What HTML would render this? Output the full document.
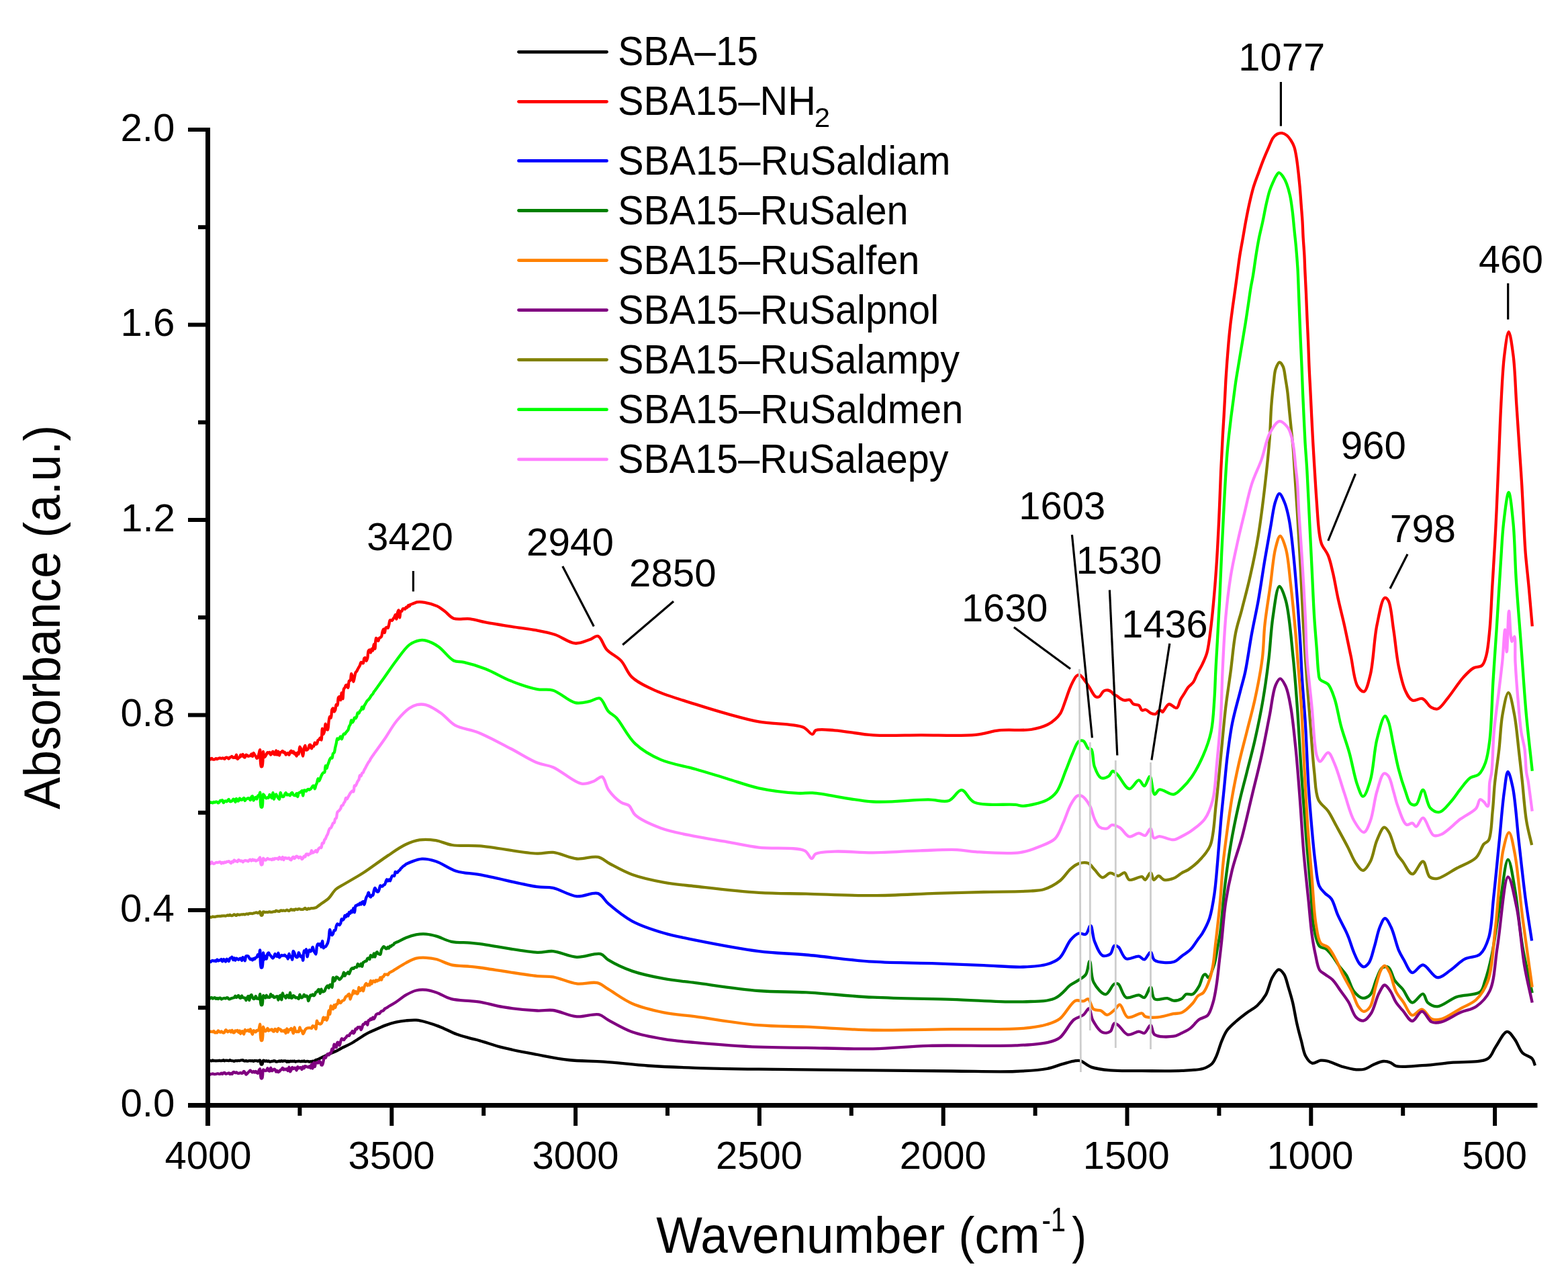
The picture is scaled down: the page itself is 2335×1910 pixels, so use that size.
<!DOCTYPE html>
<html><head><meta charset="utf-8"><title>FTIR spectra</title>
<style>
html,body{margin:0;padding:0;background:#fff;}
body{width:2335px;height:1910px;overflow:hidden;}
svg{display:block;}
text{font-family:'Liberation Sans', Arial, Helvetica, sans-serif;fill:#000;}
</style></head><body>
<svg width="2335" height="1910" viewBox="0 0 2335 1910">
<rect width="2335" height="1910" fill="#fff"/>
<g fill="none" stroke-width="4.3" stroke-linejoin="round" stroke-linecap="butt">
<path stroke="#000000" d="M310.4,1578.4C310.9,1578.5 311.5,1578.6 312.0,1578.7C312.5,1578.7 313.1,1578.9 313.6,1579.0C314.1,1579.1 314.7,1579.3 315.2,1579.3C315.7,1579.2 316.3,1578.5 316.8,1578.5C317.3,1578.5 317.9,1579.1 318.4,1579.2C318.9,1579.3 319.5,1579.1 320.0,1579.1C320.5,1579.1 321.1,1579.3 321.6,1579.3C322.1,1579.3 322.7,1579.1 323.2,1579.1C323.7,1579.0 324.3,1579.2 324.8,1579.1C325.3,1579.1 325.9,1578.7 326.4,1578.7C326.9,1578.7 327.5,1579.1 328.0,1579.2C328.5,1579.2 329.1,1579.0 329.6,1579.0C330.1,1579.0 330.7,1579.1 331.2,1579.0C331.7,1578.9 332.3,1578.2 332.8,1578.2C333.3,1578.2 333.8,1579.3 334.4,1579.3C334.9,1579.4 335.5,1578.7 336.0,1578.7C336.5,1578.6 337.1,1578.8 337.6,1578.8C338.1,1578.8 338.7,1578.7 339.2,1578.8C339.7,1578.8 340.3,1579.2 340.8,1579.1C341.3,1579.0 341.9,1578.3 342.4,1578.2C342.9,1578.2 343.5,1578.8 344.0,1579.0C344.5,1579.1 345.1,1579.0 345.6,1579.1C346.1,1579.1 346.7,1579.1 347.2,1579.3C347.7,1579.4 348.3,1579.9 348.8,1579.9C349.3,1579.9 349.9,1579.2 350.4,1579.1C350.9,1579.0 351.5,1579.2 352.0,1579.2C352.5,1579.2 353.1,1579.3 353.6,1579.2C354.1,1579.1 354.7,1578.9 355.2,1578.8C355.7,1578.8 356.3,1579.2 356.8,1579.1C357.3,1579.0 357.9,1578.6 358.4,1578.5C358.9,1578.4 359.5,1578.5 360.0,1578.4C360.5,1578.4 361.1,1578.1 361.6,1578.2C362.2,1578.4 362.6,1579.0 363.2,1579.2C363.7,1579.4 364.3,1579.5 364.8,1579.5C365.3,1579.4 365.9,1579.0 366.4,1579.0C366.9,1579.0 367.5,1579.7 368.0,1579.7C368.5,1579.8 369.1,1579.6 369.6,1579.5C370.1,1579.4 370.7,1579.2 371.2,1579.1C371.7,1579.1 372.3,1579.1 372.8,1579.2C373.3,1579.2 373.9,1579.3 374.4,1579.3C374.9,1579.3 375.5,1579.1 376.0,1579.2C376.5,1579.3 377.1,1579.8 377.6,1579.8C378.1,1579.7 378.6,1578.9 379.2,1578.8C379.7,1578.7 380.3,1579.2 380.8,1579.2C381.3,1579.3 381.9,1579.0 382.4,1579.1C382.9,1579.2 383.5,1579.8 384.0,1579.8C384.5,1579.8 385.0,1579.1 385.6,1578.8C386.1,1578.6 386.8,1578.1 387.2,1578.4C388.1,1578.9 387.9,1583.7 388.8,1584.4C389.2,1584.8 390.0,1584.8 390.4,1584.4C391.3,1583.8 391.2,1579.4 392.0,1578.8C392.4,1578.5 393.1,1578.9 393.6,1579.0C394.1,1579.2 394.7,1579.7 395.2,1579.8C395.7,1579.8 396.3,1579.1 396.8,1579.2C397.3,1579.2 397.9,1580.2 398.4,1580.2C398.9,1580.2 399.5,1579.3 400.0,1579.3C400.5,1579.4 401.0,1580.4 401.6,1580.6C402.1,1580.7 402.7,1580.4 403.2,1580.3C403.7,1580.2 404.3,1580.0 404.8,1579.9C405.3,1579.9 405.9,1580.0 406.4,1579.8C406.9,1579.7 407.5,1579.1 408.0,1579.1C408.5,1579.0 409.1,1579.3 409.6,1579.5C410.2,1579.8 410.6,1580.4 411.2,1580.5C411.7,1580.7 412.3,1580.5 412.8,1580.4C413.3,1580.3 413.9,1580.2 414.4,1580.0C414.9,1579.9 415.5,1579.3 416.0,1579.3C416.5,1579.3 417.1,1580.2 417.6,1580.2C418.1,1580.2 418.7,1579.3 419.2,1579.2C419.7,1579.2 420.3,1580.0 420.8,1580.0C421.3,1580.0 421.9,1579.5 422.4,1579.4C422.9,1579.3 423.5,1579.4 424.0,1579.4C424.5,1579.4 425.1,1579.2 425.6,1579.4C426.2,1579.7 426.7,1580.9 427.2,1581.0C427.7,1581.0 428.3,1579.7 428.8,1579.7C429.3,1579.7 429.9,1580.8 430.4,1580.8C430.9,1580.8 431.4,1579.8 432.0,1579.7C432.5,1579.6 433.1,1580.0 433.6,1580.0C434.1,1580.0 434.7,1579.7 435.2,1579.7C435.7,1579.7 436.3,1580.0 436.8,1580.0C437.3,1579.9 437.9,1579.5 438.4,1579.5C439.0,1579.6 439.5,1580.5 440.0,1580.6C440.5,1580.6 441.1,1580.1 441.6,1580.0C442.1,1579.9 442.7,1579.9 443.2,1579.9C443.7,1579.8 444.3,1579.6 444.8,1579.6C445.3,1579.6 445.9,1579.8 446.4,1579.9C446.9,1580.0 447.5,1580.4 448.0,1580.4C448.5,1580.3 449.1,1579.6 449.6,1579.6C450.1,1579.5 450.7,1580.2 451.2,1580.2C451.7,1580.1 452.3,1579.4 452.8,1579.4C453.3,1579.5 453.8,1580.3 454.4,1580.4C454.9,1580.5 455.5,1580.1 456.0,1580.1C456.5,1580.0 457.1,1579.9 457.6,1579.9C458.1,1579.9 458.7,1579.9 459.2,1580.0C459.7,1580.2 460.3,1580.7 460.8,1580.7C461.3,1580.7 461.9,1580.1 462.4,1580.1C462.9,1580.1 463.5,1580.7 464.0,1580.6C464.6,1580.5 465.0,1579.7 465.6,1579.6C466.1,1579.5 466.7,1579.9 467.2,1579.8C467.7,1579.7 468.3,1579.4 468.8,1579.0C469.3,1578.7 469.8,1578.1 470.4,1577.9C470.9,1577.6 471.5,1577.7 472.0,1577.6C472.5,1577.4 473.1,1577.2 473.6,1577.0C474.1,1576.8 474.7,1576.6 475.2,1576.3C475.7,1576.1 476.3,1575.7 476.8,1575.4C477.3,1575.2 477.7,1575.1 478.4,1574.7C480.2,1573.9 484.1,1571.9 487.4,1570.4C491.2,1568.7 496.4,1566.7 500.0,1565.0C502.9,1563.6 504.5,1562.6 507.5,1561.0C512.2,1558.6 519.4,1555.4 525.4,1552.0C531.8,1548.3 538.6,1543.0 544.8,1539.6C550.0,1536.7 554.8,1534.8 559.8,1532.5C564.8,1530.3 569.7,1527.9 574.8,1526.1C579.7,1524.3 584.8,1522.8 589.8,1521.7C594.7,1520.6 599.7,1519.9 604.7,1519.4C609.7,1518.9 614.7,1518.3 619.7,1518.7C624.7,1519.1 629.2,1520.2 634.7,1521.7C641.5,1523.5 649.8,1526.4 657.2,1529.4C664.7,1532.4 672.2,1536.8 679.6,1539.6C686.5,1542.2 693.8,1543.9 700.0,1545.6C705.3,1547.0 708.7,1547.7 714.6,1549.3C723.7,1551.8 736.5,1556.5 749.2,1559.7C764.4,1563.5 783.4,1566.9 800.0,1570.0C816.0,1573.0 831.0,1576.2 847.1,1578.0C863.9,1579.8 880.7,1579.3 899.0,1580.6C919.7,1582.0 942.5,1585.0 964.9,1586.5C988.0,1588.1 1010.3,1589.0 1035.6,1589.8C1064.8,1590.8 1093.9,1591.2 1129.9,1591.7C1178.3,1592.4 1248.5,1592.9 1300.0,1593.4C1342.9,1593.8 1380.7,1594.2 1417.8,1594.5C1451.0,1594.7 1486.1,1596.0 1512.1,1595.0C1530.5,1594.3 1546.3,1593.5 1559.2,1591.0C1568.5,1589.2 1575.4,1585.9 1582.8,1583.9C1589.4,1582.1 1596.8,1579.8 1601.6,1579.2C1604.5,1578.8 1606.0,1578.5 1608.7,1579.2C1613.2,1580.4 1618.7,1586.3 1625.2,1588.6C1633.1,1591.4 1642.8,1592.4 1653.4,1593.4C1667.1,1594.7 1684.0,1594.0 1700.6,1594.1C1719.3,1594.2 1743.3,1594.8 1760.0,1593.9C1772.3,1593.3 1783.9,1593.2 1792.0,1590.7C1797.5,1589.0 1801.6,1586.7 1804.9,1583.5C1807.9,1580.5 1809.2,1576.8 1811.3,1572.3C1814.1,1566.2 1816.4,1556.6 1819.3,1549.8C1821.8,1543.9 1823.8,1538.6 1827.3,1533.8C1830.8,1529.0 1835.5,1525.1 1840.1,1521.0C1845.0,1516.6 1850.7,1512.2 1856.1,1508.2C1861.4,1504.2 1867.4,1501.5 1872.2,1497.0C1877.1,1492.4 1881.4,1487.2 1885.0,1480.9C1889.1,1473.6 1890.8,1462.0 1894.6,1455.3C1897.5,1450.3 1901.0,1443.6 1904.2,1443.3C1906.9,1443.1 1910.0,1447.1 1912.2,1450.5C1915.2,1455.1 1916.5,1463.0 1918.6,1469.7C1920.8,1476.9 1923.0,1484.0 1925.0,1492.2C1927.3,1501.9 1929.1,1514.2 1931.4,1524.2C1933.4,1533.2 1935.7,1541.6 1937.9,1549.8C1940.0,1557.6 1941.1,1566.5 1944.3,1572.3C1946.8,1576.8 1950.1,1581.7 1953.9,1582.7C1957.6,1583.7 1962.7,1579.1 1966.7,1578.7C1970.1,1578.3 1972.4,1578.6 1976.3,1579.5C1982.6,1580.9 1992.7,1586.1 2000.3,1588.3C2007.0,1590.2 2013.8,1591.9 2019.6,1592.3C2024.3,1592.6 2028.2,1592.6 2032.4,1591.5C2036.8,1590.3 2040.7,1587.0 2045.2,1585.1C2049.8,1583.1 2055.1,1580.4 2059.6,1580.0C2063.5,1579.7 2067.5,1580.6 2070.8,1581.9C2073.8,1583.1 2075.0,1585.9 2078.9,1587.0C2086.8,1589.2 2104.4,1587.0 2117.6,1586.2C2131.6,1585.4 2145.6,1583.5 2160.8,1581.9C2178.0,1580.1 2204.7,1582.6 2215.5,1576.1C2222.1,1572.1 2222.7,1565.0 2227.0,1558.9C2232.1,1551.7 2238.9,1536.2 2244.3,1535.8C2248.4,1535.5 2252.2,1542.7 2255.8,1547.4C2260.0,1553.0 2262.5,1562.6 2267.3,1567.5C2271.4,1571.7 2278.6,1572.5 2281.7,1576.1C2284.2,1579.0 2284.6,1582.8 2286.0,1586.2"/>
<path stroke="#ff0000" d="M310.4,1130.9C310.9,1130.2 311.5,1128.8 312.0,1128.8C312.5,1128.8 313.1,1130.5 313.6,1130.5C314.1,1130.5 314.7,1128.9 315.2,1128.9C315.7,1128.9 316.2,1130.0 316.8,1130.3C317.3,1130.6 317.9,1130.7 318.4,1130.7C318.9,1130.7 319.5,1130.5 320.0,1130.3C320.6,1130.0 321.1,1129.1 321.6,1129.1C322.1,1129.0 322.7,1130.0 323.2,1130.1C323.7,1130.1 324.3,1129.5 324.8,1129.3C325.3,1129.1 325.9,1128.9 326.4,1128.7C326.9,1128.6 327.5,1128.4 328.0,1128.5C328.5,1128.6 329.1,1129.2 329.6,1129.2C330.1,1129.2 330.7,1128.6 331.2,1128.5C331.7,1128.5 332.3,1128.6 332.8,1128.8C333.4,1129.0 333.9,1129.9 334.4,1129.8C335.0,1129.7 335.4,1128.2 336.0,1127.9C336.5,1127.6 337.1,1127.5 337.6,1127.6C338.1,1127.7 338.7,1128.1 339.2,1128.4C339.7,1128.7 340.3,1129.6 340.8,1129.5C341.4,1129.4 341.8,1128.0 342.4,1127.5C342.9,1127.2 343.5,1127.2 344.0,1126.9C344.5,1126.7 345.1,1125.9 345.6,1126.0C346.2,1126.1 346.6,1127.9 347.2,1128.0C347.7,1128.2 348.3,1127.4 348.8,1127.4C349.3,1127.4 349.9,1128.3 350.4,1128.1C351.1,1127.8 351.5,1123.7 352.0,1123.7C352.6,1123.8 352.8,1129.8 353.6,1130.0C354.1,1130.1 354.6,1128.7 355.2,1128.3C355.7,1127.9 356.3,1128.1 356.8,1127.6C357.5,1126.9 357.8,1123.7 358.4,1123.6C358.9,1123.6 359.5,1125.9 360.0,1125.8C360.6,1125.8 361.1,1122.8 361.6,1122.8C362.2,1122.9 362.5,1126.2 363.2,1126.9C363.7,1127.4 364.3,1127.8 364.8,1127.6C365.5,1127.3 365.7,1124.1 366.4,1123.8C366.9,1123.6 367.5,1124.0 368.0,1124.3C368.6,1124.6 369.0,1125.6 369.6,1125.8C370.1,1125.9 370.7,1125.5 371.2,1125.4C371.7,1125.3 372.3,1125.5 372.8,1125.2C373.5,1124.7 373.9,1122.5 374.4,1122.5C375.0,1122.5 375.5,1126.2 376.0,1126.2C376.6,1126.1 377.0,1120.9 377.6,1120.9C378.1,1120.8 378.6,1122.9 379.2,1123.8C379.7,1124.5 380.3,1124.9 380.8,1125.7C381.4,1126.6 381.7,1128.7 382.4,1128.9C382.9,1129.0 383.6,1128.5 384.0,1127.9C384.8,1126.9 385.1,1124.0 385.6,1122.0C386.1,1120.1 386.8,1116.1 387.2,1116.2C388.1,1116.3 387.0,1139.5 388.8,1141.1C389.3,1141.4 389.9,1141.4 390.4,1140.9C392.1,1139.3 391.3,1119.0 392.0,1119.0C392.5,1119.0 392.7,1127.1 393.6,1127.3C394.0,1127.5 394.7,1126.4 395.2,1125.8C395.8,1125.0 396.3,1123.9 396.8,1122.9C397.3,1122.0 397.8,1120.2 398.4,1120.1C398.9,1119.9 399.5,1121.1 400.0,1121.0C400.5,1121.0 401.1,1119.7 401.6,1119.8C402.3,1120.0 402.6,1123.7 403.2,1123.7C403.7,1123.8 404.2,1121.8 404.8,1121.0C405.3,1120.1 405.9,1118.6 406.4,1118.7C407.0,1118.8 407.3,1122.1 408.0,1122.8C408.5,1123.2 409.2,1123.6 409.6,1123.4C410.5,1122.9 410.7,1117.3 411.2,1117.3C411.7,1117.3 412.2,1123.7 412.8,1123.7C413.3,1123.7 413.9,1118.6 414.4,1118.6C415.0,1118.6 415.4,1124.5 416.0,1124.6C416.5,1124.6 416.8,1120.7 417.6,1120.1C418.1,1119.7 418.7,1120.0 419.2,1119.7C419.8,1119.4 420.3,1117.8 420.8,1117.8C421.4,1117.8 421.8,1120.2 422.4,1120.4C422.9,1120.6 423.5,1119.5 424.0,1119.7C424.7,1120.0 425.0,1123.6 425.6,1123.7C426.1,1123.7 426.6,1122.2 427.2,1121.8C427.7,1121.4 428.3,1120.9 428.8,1121.1C429.4,1121.3 429.9,1123.9 430.4,1123.8C431.0,1123.8 431.4,1120.7 432.0,1119.6C432.5,1118.8 433.1,1117.6 433.6,1117.7C434.2,1117.7 434.6,1120.6 435.2,1120.7C435.7,1120.7 436.3,1118.6 436.8,1118.7C437.4,1118.7 437.7,1122.3 438.4,1122.5C438.9,1122.6 439.5,1120.9 440.0,1121.0C440.7,1121.2 441.1,1125.7 441.6,1125.7C442.2,1125.7 442.5,1120.4 443.2,1120.3C443.7,1120.2 444.4,1122.7 444.8,1122.6C445.7,1122.3 445.6,1111.7 446.4,1111.6C446.8,1111.5 447.5,1113.2 448.0,1114.2C448.6,1115.7 449.1,1117.8 449.6,1119.6C450.1,1121.6 450.7,1125.5 451.2,1125.5C451.9,1125.4 452.0,1116.4 452.8,1113.6C453.3,1112.0 453.9,1109.9 454.4,1109.9C455.0,1110.0 455.1,1116.1 456.0,1116.6C456.4,1116.8 457.1,1116.4 457.6,1116.1C458.2,1115.7 458.7,1115.2 459.2,1114.4C459.9,1113.1 460.0,1109.8 460.8,1109.1C461.2,1108.8 462.0,1108.7 462.4,1109.0C463.2,1109.6 463.4,1114.3 464.0,1114.3C464.5,1114.3 464.9,1111.1 465.6,1110.8C466.1,1110.5 466.8,1111.3 467.2,1111.1C468.0,1110.5 468.1,1105.7 468.8,1105.6C469.3,1105.5 469.8,1107.6 470.4,1107.8C470.9,1107.9 471.6,1107.6 472.0,1107.1C472.8,1106.2 472.8,1102.8 473.6,1101.9C474.1,1101.4 474.7,1101.6 475.2,1101.1C475.8,1100.6 476.3,1098.4 476.8,1098.4C477.4,1098.5 478.0,1101.8 478.4,1101.7C479.4,1101.5 479.3,1084.6 480.0,1084.6C480.5,1084.6 481.0,1093.0 481.6,1093.0C482.1,1093.1 482.7,1090.5 483.2,1088.6C483.9,1085.8 484.2,1077.7 484.8,1077.7C485.3,1077.7 485.6,1083.5 486.4,1085.0C486.8,1085.7 487.6,1086.6 488.0,1086.5C489.1,1086.1 489.0,1077.5 489.6,1074.0C490.1,1071.3 490.4,1067.1 491.2,1066.9C491.7,1066.8 492.4,1068.8 492.8,1068.7C493.8,1068.3 493.5,1059.0 494.4,1056.6C494.8,1055.4 495.5,1054.2 496.0,1054.3C496.7,1054.4 497.0,1059.4 497.6,1059.5C498.1,1059.6 498.7,1058.2 499.2,1057.1C500.0,1055.2 499.9,1049.2 500.8,1048.9C501.2,1048.7 502.0,1050.3 502.4,1050.2C503.5,1049.8 502.9,1040.3 504.0,1038.4C504.4,1037.7 505.1,1037.1 505.6,1037.2C506.3,1037.4 506.7,1042.2 507.2,1042.2C507.9,1042.2 508.2,1031.4 508.8,1031.4C509.3,1031.4 509.9,1040.3 510.4,1040.3C511.0,1040.3 511.0,1028.4 512.0,1025.7C512.4,1024.6 513.1,1024.4 513.6,1023.6C514.2,1022.6 514.5,1020.5 515.2,1020.0C515.7,1019.7 516.3,1019.6 516.8,1019.9C517.5,1020.4 517.9,1024.0 518.4,1023.9C519.1,1023.8 518.9,1015.0 520.0,1013.6C520.4,1013.1 521.2,1013.6 521.6,1013.0C522.7,1011.7 522.5,1003.1 523.2,1003.0C523.7,1003.0 524.3,1005.9 524.8,1007.7C525.4,1009.8 525.9,1014.9 526.4,1014.9C526.9,1014.9 527.5,1010.1 528.0,1007.8C528.5,1005.5 528.9,1002.7 529.6,1001.1C530.1,1000.2 530.7,999.9 531.2,999.2C531.8,998.3 532.3,997.1 532.8,996.1C533.3,995.2 533.9,994.3 534.4,993.4C534.9,992.4 535.5,991.4 536.0,990.3C536.6,989.0 536.9,986.3 537.6,986.0C538.1,985.8 538.7,986.3 539.2,986.6C539.7,986.8 540.4,987.6 540.8,987.4C541.7,987.0 541.5,981.0 542.4,979.9C542.8,979.4 543.5,979.1 544.0,979.3C544.8,979.7 545.1,983.8 545.6,983.9C546.1,983.9 546.7,981.6 547.2,979.9C547.9,977.1 547.8,970.7 548.8,968.8C549.2,968.0 549.9,967.2 550.4,967.3C551.1,967.4 551.5,971.7 552.0,971.6C552.6,971.6 552.9,966.0 553.6,966.0C554.1,965.9 554.8,968.6 555.2,968.6C556.0,968.4 556.2,959.1 556.8,959.0C557.3,959.0 557.9,965.9 558.4,965.8C559.1,965.8 558.8,950.3 560.0,949.8C560.4,949.6 561.1,950.6 561.6,951.2C562.2,951.9 562.7,954.1 563.2,954.0C563.8,954.0 564.1,950.6 564.8,949.9C565.3,949.4 565.9,949.5 566.4,949.2C567.0,948.8 567.6,948.5 568.0,947.6C568.8,946.2 569.0,942.4 569.6,940.4C570.1,938.9 570.7,936.6 571.2,936.7C571.8,936.7 572.3,942.0 572.8,942.0C573.4,942.0 573.5,935.7 574.4,934.6C574.8,934.0 575.5,933.8 576.0,933.8C576.6,933.9 577.1,935.1 577.6,935.0C578.3,934.8 578.7,931.9 579.2,930.1C579.8,928.0 579.9,923.8 580.8,923.2C581.2,922.9 581.9,923.3 582.4,923.4C582.9,923.5 583.5,923.9 584.0,923.7C584.6,923.4 585.0,921.9 585.6,921.1C586.1,920.3 586.7,919.8 587.2,918.9C587.8,917.9 588.3,915.2 588.8,915.2C589.4,915.3 589.9,921.7 590.4,921.6C591.0,921.6 591.3,914.5 592.0,912.1C592.5,910.6 593.1,908.5 593.6,908.5C594.4,908.6 594.6,919.4 595.2,919.5C595.7,919.5 595.8,911.6 596.8,910.3C597.2,909.8 597.9,910.1 598.4,909.7C599.1,909.0 599.3,906.7 600.0,906.2C600.5,905.9 601.1,906.1 601.6,906.2C602.1,906.3 602.7,907.0 603.2,906.8C603.9,906.6 604.1,904.0 604.8,903.8C605.3,903.7 605.9,904.7 606.4,904.6C607.1,904.3 607.4,901.1 608.0,901.0C608.5,900.9 609.1,902.6 609.6,902.5C610.2,902.4 610.6,900.3 611.2,899.8C611.7,899.5 612.3,899.6 612.8,899.5C613.3,899.3 613.9,899.2 614.4,898.9C614.9,898.7 615.5,898.3 616.0,898.1C616.5,897.9 617.0,897.8 617.6,897.6C618.5,897.3 619.5,896.6 621.0,896.4C623.6,896.0 628.1,896.1 632.3,896.8C637.8,897.7 645.8,899.9 651.1,902.4C655.5,904.5 658.6,907.2 662.4,910.0C666.7,913.2 670.1,918.7 675.6,920.7C682.2,923.1 692.1,920.3 700.1,921.3C707.9,922.3 714.3,924.7 722.8,926.4C733.8,928.5 747.9,930.6 760.5,932.6C773.1,934.6 786.6,936.0 798.2,938.2C808.3,940.1 817.0,941.7 826.4,944.8C836.4,948.1 847.2,957.0 856.5,957.7C864.1,958.3 871.6,954.3 877.8,952.3C882.7,950.7 886.8,945.9 890.7,947.1C895.8,948.7 898.2,961.2 903.7,967.2C909.5,973.5 918.7,977.0 924.9,983.6C931.4,990.6 933.8,1001.3 941.4,1008.4C950.3,1016.7 963.1,1022.3 976.7,1028.4C993.5,1035.9 1017.0,1042.4 1035.6,1048.4C1052.2,1053.7 1067.0,1058.3 1082.8,1062.6C1098.5,1066.9 1112.8,1071.2 1129.9,1074.4C1149.9,1078.1 1182.3,1077.2 1195.8,1082.6C1202.8,1085.4 1206.7,1093.6 1210.0,1093.2C1212.2,1092.9 1212.0,1088.6 1214.7,1087.3C1219.9,1084.8 1232.0,1086.6 1243.0,1087.3C1258.7,1088.3 1279.9,1093.2 1300.0,1094.4C1322.3,1095.8 1346.2,1094.4 1370.7,1094.3C1397.1,1094.2 1431.5,1095.9 1453.2,1093.8C1467.5,1092.4 1475.8,1088.5 1488.5,1087.2C1503.0,1085.7 1522.6,1088.1 1535.6,1086.0C1545.2,1084.5 1553.6,1081.9 1560.0,1078.8C1564.7,1076.5 1568.0,1073.8 1571.3,1070.8C1574.4,1068.1 1576.9,1065.5 1579.2,1061.8C1582.0,1057.2 1583.8,1050.7 1586.0,1044.8C1588.3,1038.6 1590.5,1031.3 1592.8,1025.6C1594.7,1021.0 1596.6,1016.7 1598.5,1013.2C1600.0,1010.5 1601.2,1007.8 1603.0,1006.4C1604.3,1005.3 1605.9,1004.3 1607.5,1004.7C1610.2,1005.4 1614.1,1011.7 1616.7,1015.0C1618.9,1017.8 1620.2,1020.2 1622.3,1023.3C1625.0,1027.3 1628.4,1035.4 1631.5,1037.1C1633.3,1038.1 1635.3,1037.9 1637.0,1037.1C1639.4,1035.9 1641.0,1030.3 1643.5,1028.8C1645.4,1027.6 1647.9,1027.2 1649.9,1027.5C1651.8,1027.8 1654.0,1029.1 1655.4,1030.2C1656.6,1031.1 1657.0,1032.6 1658.2,1033.5C1659.6,1034.6 1662.0,1035.1 1663.7,1036.2C1665.4,1037.3 1666.6,1038.8 1668.3,1039.9C1670.2,1041.1 1672.5,1042.4 1674.8,1042.7C1677.1,1043.0 1680.1,1041.0 1682.2,1041.8C1684.4,1042.7 1685.4,1046.8 1687.7,1048.2C1690.0,1049.6 1693.9,1048.5 1696.0,1050.0C1698.2,1051.5 1698.6,1056.5 1700.6,1057.4C1702.2,1058.1 1704.2,1056.1 1706.1,1056.5C1708.7,1057.1 1711.7,1061.0 1714.4,1062.0C1716.6,1062.8 1719.0,1063.5 1720.9,1062.9C1722.7,1062.3 1723.8,1059.0 1725.5,1058.3C1726.9,1057.7 1729.0,1057.8 1730.0,1058.3C1730.7,1058.7 1730.6,1060.1 1731.2,1060.1C1732.8,1060.2 1736.9,1049.1 1740.6,1048.3C1744.0,1047.5 1749.4,1055.0 1752.3,1053.9C1755.3,1052.8 1755.9,1045.2 1757.9,1041.4C1759.7,1038.1 1761.7,1035.4 1763.6,1032.4C1765.5,1029.4 1767.0,1026.1 1769.2,1023.3C1771.5,1020.4 1774.9,1018.6 1777.1,1015.4C1779.5,1011.9 1780.7,1007.3 1782.8,1003.0C1785.2,998.3 1788.3,993.4 1790.7,988.3C1793.2,982.9 1795.6,978.3 1797.5,971.3C1800.3,960.8 1801.8,945.0 1803.6,930.9C1805.5,915.5 1807.0,898.6 1808.4,882.5C1809.8,866.4 1810.9,851.1 1812.0,834.1C1813.2,815.1 1814.2,794.7 1815.2,773.6C1816.3,750.5 1817.3,718.8 1818.1,701.0C1818.6,690.7 1819.0,684.9 1819.4,676.5C1819.9,667.6 1820.3,658.0 1820.8,648.8C1821.3,639.6 1822.0,630.4 1822.5,621.2C1823.0,612.0 1823.5,602.7 1824.0,593.5C1824.5,584.3 1824.9,575.1 1825.4,565.9C1826.0,556.7 1826.6,547.4 1827.3,538.2C1828.0,529.0 1828.7,519.8 1829.5,510.6C1830.3,501.4 1831.2,492.1 1832.3,482.9C1833.4,473.7 1834.7,464.5 1835.9,455.3C1837.2,446.1 1838.7,435.8 1839.8,427.6C1840.7,421.1 1841.3,416.6 1842.2,410.0C1843.4,401.3 1844.8,389.6 1846.3,380.1C1847.7,371.3 1849.3,363.2 1850.8,354.7C1852.3,346.3 1853.6,337.8 1855.2,329.4C1856.8,320.9 1858.4,312.4 1860.3,304.0C1862.2,295.5 1864.2,286.7 1866.6,278.7C1868.9,271.2 1871.6,264.3 1874.2,257.2C1876.7,250.3 1879.2,243.4 1881.8,236.9C1884.3,230.7 1886.9,224.7 1889.4,219.1C1891.6,214.2 1893.3,208.6 1895.8,205.2C1897.7,202.6 1899.8,200.7 1902.1,199.5C1904.2,198.4 1906.8,197.9 1909.1,198.2C1911.5,198.5 1913.9,199.8 1916.0,201.4C1918.4,203.2 1920.5,206.2 1922.4,209.0C1924.4,212.0 1926.1,215.3 1927.4,219.1C1928.9,223.6 1929.7,228.9 1930.6,234.3C1931.6,240.3 1932.3,246.6 1933.1,253.4C1934.0,261.2 1934.9,270.3 1935.7,278.7C1936.4,287.1 1937.0,295.6 1937.6,304.0C1938.2,312.5 1939.0,320.9 1939.5,329.4C1940.0,337.8 1940.2,346.3 1940.7,354.7C1941.2,363.2 1942.0,372.1 1942.4,380.1C1942.8,387.1 1942.9,392.4 1943.2,400.0C1943.7,410.4 1944.4,424.6 1945.0,436.9C1945.5,449.2 1946.0,461.4 1946.5,473.7C1947.0,486.0 1947.7,498.3 1948.2,510.6C1948.7,522.9 1949.0,535.2 1949.6,547.5C1950.1,559.8 1950.9,572.0 1951.5,584.3C1952.1,596.6 1952.7,608.9 1953.3,621.2C1953.9,633.5 1954.4,644.6 1955.2,658.1C1956.1,674.6 1957.5,696.7 1958.5,713.1C1959.3,726.5 1960.0,736.8 1960.9,749.4C1961.9,763.3 1962.9,781.9 1964.5,793.0C1965.5,800.0 1966.0,804.4 1968.1,809.9C1970.3,815.7 1975.1,820.4 1977.8,826.9C1981.0,834.6 1982.8,843.9 1985.1,853.5C1987.7,864.6 1989.6,877.3 1992.3,889.8C1995.2,903.1 1998.8,916.8 2002.0,930.9C2005.3,945.8 2008.4,961.7 2011.7,976.9C2014.9,991.8 2016.3,1012.5 2021.4,1021.1C2024.1,1025.7 2028.3,1030.3 2031.1,1029.6C2035.2,1028.6 2038.0,1015.1 2040.7,1004.2C2045.2,986.3 2046.1,951.7 2050.4,930.9C2053.7,915.2 2057.6,891.4 2062.0,890.0C2063.8,889.4 2066.0,891.6 2067.6,894.3C2071.6,901.0 2072.8,922.2 2075.2,937.4C2077.9,954.5 2079.4,975.7 2082.8,992.0C2085.6,1005.5 2088.6,1019.7 2093.0,1028.7C2095.9,1034.8 2098.7,1040.8 2103.1,1042.6C2107.3,1044.3 2113.8,1038.6 2118.3,1040.1C2123.2,1041.7 2126.7,1050.3 2131.0,1052.8C2134.3,1054.7 2137.7,1056.3 2141.1,1055.3C2146.1,1053.8 2150.9,1045.3 2156.3,1038.8C2163.3,1030.3 2171.9,1016.3 2179.1,1008.4C2184.4,1002.6 2189.1,997.4 2194.3,994.5C2198.5,992.1 2203.9,993.5 2207.0,990.7C2210.5,987.6 2211.7,981.9 2213.4,975.5C2216.0,965.8 2217.0,951.7 2218.4,937.4C2220.2,919.0 2220.9,895.2 2222.2,874.1C2223.5,853.0 2224.9,830.7 2226.0,810.7C2227.0,792.9 2227.7,779.1 2228.6,760.0C2229.8,735.2 2231.0,701.8 2232.2,674.4C2233.3,649.2 2234.0,626.0 2235.3,601.8C2236.6,577.6 2237.7,549.1 2240.2,529.3C2241.9,515.4 2244.5,494.0 2246.7,494.0C2248.9,494.0 2251.7,515.4 2253.5,529.3C2256.1,549.1 2256.7,577.6 2258.3,601.8C2259.9,626.0 2261.7,652.6 2263.1,674.4C2264.3,692.2 2265.3,706.0 2266.3,722.8C2267.4,741.0 2268.2,762.1 2269.2,779.8C2270.0,795.3 2270.5,808.3 2271.7,823.4C2273.0,839.7 2275.1,856.6 2276.7,874.1C2278.4,892.9 2280.1,913.0 2281.8,932.4"/>
<path stroke="#0000ff" d="M310.4,1430.7C310.9,1431.2 311.4,1432.0 312.0,1432.1C312.5,1432.3 313.1,1432.2 313.6,1432.0C314.2,1431.7 314.6,1430.8 315.2,1430.5C315.7,1430.2 316.3,1430.0 316.8,1430.0C317.3,1430.0 317.9,1430.5 318.4,1430.6C318.9,1430.6 319.5,1430.1 320.0,1430.2C320.5,1430.3 321.1,1431.2 321.6,1431.1C322.2,1430.9 322.6,1428.6 323.2,1428.5C323.7,1428.5 324.2,1430.3 324.8,1430.4C325.3,1430.5 325.8,1429.7 326.4,1429.5C326.9,1429.4 327.5,1429.7 328.0,1429.5C328.6,1429.2 329.1,1427.9 329.6,1428.0C330.2,1428.2 330.7,1431.4 331.2,1431.4C331.7,1431.4 332.2,1428.1 332.8,1428.0C333.3,1427.9 333.9,1428.8 334.4,1429.4C335.0,1430.0 335.5,1431.7 336.0,1431.6C336.6,1431.6 336.9,1427.7 337.6,1427.6C338.1,1427.5 338.7,1428.6 339.2,1429.2C339.7,1429.8 340.3,1431.3 340.8,1431.2C341.4,1431.1 341.6,1427.5 342.4,1426.7C342.9,1426.2 343.5,1426.4 344.0,1426.1C344.6,1425.7 345.1,1424.6 345.6,1424.7C346.3,1424.9 346.6,1429.0 347.2,1429.1C347.7,1429.1 348.3,1426.1 348.8,1426.2C349.4,1426.2 349.9,1429.8 350.4,1429.8C350.9,1429.9 351.3,1426.8 352.0,1426.6C352.5,1426.5 353.1,1427.1 353.6,1427.5C354.2,1427.9 354.7,1429.0 355.2,1428.9C355.8,1428.9 356.2,1427.4 356.8,1427.1C357.3,1426.8 357.9,1426.5 358.4,1426.7C359.1,1427.1 359.5,1430.1 360.0,1430.1C360.6,1430.1 360.9,1425.3 361.6,1425.1C362.1,1425.0 362.7,1425.9 363.2,1426.6C363.8,1427.5 364.3,1430.4 364.8,1430.3C365.4,1430.3 365.5,1424.1 366.4,1423.3C366.8,1422.9 367.5,1423.1 368.0,1423.1C368.5,1423.2 369.1,1423.0 369.6,1423.4C370.3,1423.8 370.6,1425.3 371.2,1426.1C371.7,1426.9 372.2,1428.1 372.8,1428.3C373.3,1428.4 373.9,1427.4 374.4,1427.5C375.0,1427.6 375.5,1429.5 376.0,1429.5C376.6,1429.4 377.0,1427.1 377.6,1426.9C378.1,1426.8 378.7,1427.9 379.2,1427.8C379.8,1427.7 380.2,1426.0 380.8,1425.5C381.3,1425.2 381.9,1425.4 382.4,1425.0C383.1,1424.4 383.4,1421.2 384.0,1421.2C384.5,1421.2 385.1,1424.1 385.6,1424.0C386.4,1423.9 386.7,1414.4 387.2,1414.5C387.9,1414.5 387.0,1438.8 388.8,1440.4C389.3,1440.7 389.9,1440.7 390.4,1440.2C392.1,1438.6 391.3,1418.5 392.0,1418.5C392.5,1418.5 392.9,1428.5 393.6,1428.5C394.1,1428.6 394.6,1423.5 395.2,1423.4C395.7,1423.4 396.3,1427.7 396.8,1427.6C397.4,1427.6 397.6,1421.6 398.4,1420.1C398.8,1419.2 399.5,1418.3 400.0,1418.4C400.6,1418.5 401.0,1420.5 401.6,1421.3C402.1,1421.9 402.7,1422.3 403.2,1422.9C403.7,1423.6 404.2,1424.3 404.8,1424.9C405.3,1425.5 405.9,1426.5 406.4,1426.5C407.0,1426.4 407.5,1425.3 408.0,1424.5C408.6,1423.3 409.0,1420.1 409.6,1420.0C410.1,1420.0 410.6,1422.3 411.2,1423.0C411.7,1423.5 412.3,1424.1 412.8,1424.0C413.6,1423.7 413.9,1418.7 414.4,1418.7C415.0,1418.7 415.2,1425.3 416.0,1425.5C416.5,1425.6 417.1,1424.3 417.6,1423.7C418.1,1423.2 418.6,1422.1 419.2,1422.0C419.7,1421.9 420.3,1422.6 420.8,1422.7C421.3,1422.7 421.9,1422.7 422.4,1422.5C423.0,1422.3 423.5,1421.5 424.0,1421.6C424.6,1421.7 425.0,1423.4 425.6,1423.7C426.1,1424.0 426.7,1423.5 427.2,1423.8C427.9,1424.3 428.3,1427.6 428.8,1427.5C429.5,1427.5 429.8,1419.8 430.4,1419.8C430.9,1419.7 431.2,1424.3 432.0,1424.7C432.5,1424.9 433.1,1423.7 433.6,1423.9C434.4,1424.2 434.7,1428.7 435.2,1428.7C435.9,1428.6 435.9,1415.9 436.8,1415.8C437.2,1415.7 437.9,1417.6 438.4,1418.7C439.0,1420.0 439.4,1422.0 440.0,1423.1C440.5,1424.0 441.0,1424.9 441.6,1425.1C442.1,1425.3 442.8,1425.2 443.2,1424.7C444.1,1423.9 444.2,1418.2 444.8,1418.2C445.3,1418.1 445.9,1420.4 446.4,1421.5C446.9,1422.5 447.4,1424.3 448.0,1424.3C448.5,1424.4 449.2,1422.7 449.6,1422.8C450.4,1423.0 450.7,1429.9 451.2,1429.8C451.9,1429.8 451.8,1415.6 452.8,1415.3C453.2,1415.2 453.9,1417.7 454.4,1417.6C455.0,1417.5 455.5,1413.2 456.0,1413.2C456.7,1413.3 457.0,1424.4 457.6,1424.4C458.1,1424.4 458.5,1419.3 459.2,1417.4C459.7,1416.1 460.2,1414.3 460.8,1414.2C461.3,1414.2 461.9,1416.7 462.4,1416.7C462.9,1416.8 463.5,1415.5 464.0,1414.6C464.7,1413.4 465.1,1409.8 465.6,1409.8C466.2,1409.8 466.5,1414.1 467.2,1415.6C467.7,1416.6 468.3,1417.2 468.8,1418.0C469.3,1418.9 470.0,1420.6 470.4,1420.5C471.3,1420.3 471.2,1411.1 472.0,1408.4C472.4,1407.0 473.0,1405.3 473.6,1405.2C474.1,1405.1 474.7,1407.0 475.2,1407.0C475.7,1407.0 476.3,1405.1 476.8,1405.2C477.5,1405.3 477.9,1409.7 478.4,1409.7C479.0,1409.6 479.5,1401.0 480.0,1401.0C480.6,1401.0 480.7,1411.1 481.6,1411.3C482.0,1411.5 482.6,1409.8 483.2,1409.5C483.7,1409.3 484.3,1409.6 484.8,1409.3C485.4,1408.9 485.9,1407.8 486.4,1406.9C487.0,1405.9 487.5,1405.1 488.0,1403.9C488.7,1402.1 489.1,1399.6 489.6,1397.0C490.2,1393.3 490.5,1383.9 491.2,1383.8C491.7,1383.8 492.1,1388.3 492.8,1389.8C493.3,1390.8 493.9,1392.2 494.4,1392.2C494.9,1392.2 495.5,1390.9 496.0,1390.0C496.6,1388.7 496.8,1385.7 497.6,1385.1C498.0,1384.7 498.8,1385.3 499.2,1385.0C500.1,1384.2 500.2,1380.5 500.8,1378.7C501.3,1377.4 501.7,1375.5 502.4,1375.3C502.9,1375.2 503.5,1376.0 504.0,1376.3C504.5,1376.6 505.1,1377.2 505.6,1377.1C506.2,1376.9 506.7,1375.8 507.2,1374.7C507.9,1373.1 508.0,1368.4 508.8,1368.2C509.3,1368.1 509.9,1369.9 510.4,1369.9C510.9,1369.9 511.5,1369.0 512.0,1368.2C512.7,1367.0 512.9,1363.1 513.6,1363.0C514.1,1362.9 514.7,1365.3 515.2,1365.2C515.8,1365.1 516.2,1361.1 516.8,1361.1C517.3,1361.0 517.9,1363.7 518.4,1363.6C519.1,1363.5 519.3,1358.1 520.0,1358.0C520.5,1357.9 521.1,1360.0 521.6,1359.9C522.2,1359.8 522.6,1355.6 523.2,1355.6C523.7,1355.5 524.3,1358.1 524.8,1358.0C525.5,1357.9 525.9,1352.0 526.4,1352.0C526.9,1352.0 527.5,1358.3 528.0,1358.3C528.6,1358.3 528.5,1349.1 529.6,1348.2C530.0,1347.8 530.7,1348.4 531.2,1348.2C531.8,1347.9 532.2,1346.7 532.8,1346.5C533.3,1346.4 533.9,1347.3 534.4,1347.1C535.0,1346.9 535.4,1344.5 536.0,1344.5C536.5,1344.4 537.1,1346.6 537.6,1346.5C538.2,1346.4 538.5,1343.8 539.2,1343.0C539.7,1342.5 540.3,1342.0 540.8,1342.1C541.5,1342.4 541.9,1346.8 542.4,1346.8C543.0,1346.8 543.5,1342.8 544.0,1340.9C544.5,1339.1 545.0,1337.0 545.6,1335.6C546.1,1334.6 546.7,1334.1 547.2,1333.0C547.8,1331.8 548.3,1328.6 548.8,1328.6C549.4,1328.6 549.7,1332.6 550.4,1333.8C550.9,1334.6 551.5,1335.6 552.0,1335.5C552.6,1335.5 552.9,1333.1 553.6,1332.8C554.1,1332.6 554.8,1333.3 555.2,1332.9C556.1,1332.3 556.2,1328.1 556.8,1326.2C557.3,1324.6 557.8,1322.0 558.4,1322.0C558.9,1321.9 559.5,1323.7 560.0,1324.6C560.5,1325.5 560.9,1327.1 561.6,1327.4C562.1,1327.7 562.7,1327.7 563.2,1327.4C563.9,1326.9 564.3,1325.0 564.8,1323.6C565.4,1322.0 565.7,1318.5 566.4,1318.3C566.9,1318.2 567.4,1319.5 568.0,1319.6C568.5,1319.7 569.1,1319.6 569.6,1319.4C570.2,1319.0 570.6,1317.6 571.2,1317.3C571.7,1317.0 572.3,1317.5 572.8,1317.1C573.6,1316.5 573.9,1314.3 574.4,1313.0C574.9,1311.7 575.4,1309.2 576.0,1309.1C576.5,1309.1 577.1,1311.5 577.6,1311.6C578.1,1311.6 578.7,1309.5 579.2,1309.5C579.7,1309.5 580.3,1311.5 580.8,1311.4C581.4,1311.3 581.9,1308.7 582.4,1307.5C582.9,1306.3 583.3,1304.4 584.0,1304.0C584.5,1303.6 585.1,1303.8 585.6,1303.8C586.1,1303.8 586.8,1304.3 587.2,1304.0C588.1,1303.3 588.0,1298.1 588.8,1297.8C589.2,1297.7 589.8,1298.8 590.4,1299.0C590.9,1299.1 591.5,1299.1 592.0,1298.8C592.6,1298.5 593.0,1297.1 593.6,1296.5C594.1,1296.0 594.7,1295.8 595.2,1295.4C595.8,1294.8 596.2,1293.9 596.8,1293.2C597.3,1292.6 597.9,1292.2 598.4,1291.6C598.9,1291.1 599.4,1290.4 600.0,1290.0C600.5,1289.5 601.1,1289.2 601.6,1288.8C602.1,1288.5 602.7,1288.2 603.2,1287.8C603.7,1287.4 603.9,1286.9 604.8,1286.4C608.0,1284.7 620.6,1279.3 628.3,1278.7C635.4,1278.2 641.6,1279.9 649.0,1282.2C658.5,1285.2 669.1,1293.7 680.0,1297.0C691.0,1300.4 700.6,1299.7 714.6,1302.2C736.8,1306.2 780.3,1317.4 800.0,1320.2C810.2,1321.6 815.1,1320.1 823.6,1321.9C834.3,1324.1 847.3,1333.2 858.9,1334.4C869.6,1335.5 882.5,1327.3 890.7,1330.1C897.4,1332.4 899.6,1339.9 906.0,1345.4C915.1,1353.2 928.2,1364.2 941.4,1371.3C955.5,1378.9 972.6,1384.3 988.5,1389.0C1004.0,1393.6 1017.2,1395.9 1035.6,1399.6C1061.6,1404.8 1100.6,1412.4 1129.9,1416.1C1155.1,1419.3 1175.0,1419.2 1200.6,1421.5C1230.9,1424.2 1267.3,1429.6 1300.0,1431.7C1331.8,1433.8 1365.1,1433.3 1394.2,1434.3C1419.5,1435.1 1442.4,1436.2 1464.9,1437.1C1485.4,1437.9 1506.7,1440.1 1523.8,1439.5C1537.1,1439.0 1549.5,1438.4 1559.2,1435.5C1566.7,1433.3 1572.5,1431.1 1578.0,1426.1C1584.7,1419.9 1588.9,1405.4 1594.5,1399.0C1598.4,1394.6 1602.2,1390.7 1606.3,1389.5C1609.7,1388.5 1614.1,1392.2 1616.9,1390.7C1620.2,1389.0 1622.0,1377.5 1624.0,1377.8C1626.6,1378.1 1627.0,1393.9 1629.9,1401.3C1632.9,1408.8 1636.8,1420.2 1641.7,1422.5C1645.1,1424.1 1650.5,1422.4 1653.4,1420.2C1656.5,1417.8 1656.8,1409.0 1659.3,1407.9C1661.0,1407.1 1663.2,1408.1 1665.2,1409.6C1669.0,1412.3 1671.7,1425.0 1677.0,1427.2C1682.1,1429.3 1691.0,1422.9 1695.9,1423.7C1699.3,1424.3 1701.5,1428.9 1704.1,1428.4C1707.4,1427.8 1710.9,1417.0 1713.5,1417.3C1716.0,1417.6 1715.6,1427.0 1719.4,1429.6C1724.9,1433.4 1740.5,1434.0 1747.7,1432.0C1753.0,1430.6 1755.9,1426.3 1760.0,1423.3C1764.2,1420.2 1768.9,1417.6 1772.8,1413.6C1777.1,1409.3 1781.0,1402.4 1784.2,1398.0C1786.6,1394.8 1788.2,1393.2 1790.4,1389.6C1793.7,1384.0 1798.2,1375.8 1801.1,1367.2C1804.6,1356.7 1806.5,1343.9 1808.4,1330.9C1810.6,1316.0 1811.7,1299.5 1813.2,1282.5C1814.9,1263.5 1816.4,1241.0 1818.1,1222.0C1819.6,1205.0 1821.3,1189.7 1822.9,1173.6C1824.5,1157.5 1825.8,1141.3 1827.8,1125.2C1829.8,1109.0 1831.8,1092.9 1835.0,1076.8C1838.2,1060.6 1843.6,1042.4 1847.1,1028.4C1849.8,1017.7 1852.0,1011.2 1854.4,1000.0C1857.7,984.3 1860.7,961.2 1864.1,943.0C1867.2,926.2 1870.6,911.7 1873.7,894.6C1877.1,875.6 1880.2,853.1 1883.4,834.1C1886.3,817.1 1889.1,800.9 1891.9,785.7C1894.4,772.1 1896.1,756.1 1899.2,747.0C1901.0,741.7 1903.0,735.0 1905.2,734.9C1907.4,734.8 1910.4,742.0 1912.5,747.0C1915.5,754.0 1917.6,762.8 1919.7,773.6C1922.8,789.6 1924.9,813.0 1927.0,834.1C1929.3,857.2 1931.3,884.4 1933.0,906.7C1934.4,925.8 1935.5,942.5 1936.5,960.0C1937.5,976.9 1937.9,992.1 1939.0,1010.0C1940.3,1030.7 1942.4,1052.5 1943.9,1076.8C1945.7,1106.1 1946.9,1145.1 1948.8,1173.6C1950.3,1196.1 1951.9,1215.1 1953.6,1234.1C1955.1,1251.1 1956.5,1267.6 1958.5,1282.5C1960.2,1295.5 1960.9,1310.5 1964.5,1318.8C1966.7,1323.9 1969.9,1326.4 1973.0,1329.7C1976.0,1332.9 1979.9,1334.2 1982.7,1338.2C1986.7,1343.9 1988.7,1354.4 1992.3,1362.4C1995.9,1370.5 2001.5,1380.4 2004.4,1386.6C2006.2,1390.4 2006.9,1392.2 2008.4,1396.0C2010.7,1401.9 2013.5,1411.7 2016.4,1418.5C2018.9,1424.4 2021.4,1430.9 2024.4,1434.5C2026.4,1436.9 2028.6,1439.3 2030.8,1439.3C2033.3,1439.3 2036.5,1436.2 2038.8,1432.9C2042.4,1427.7 2044.2,1417.2 2046.8,1408.8C2049.6,1399.7 2051.6,1387.5 2054.8,1380.0C2057.1,1374.7 2059.8,1367.3 2062.5,1367.2C2065.3,1367.1 2068.7,1374.6 2071.5,1380.3C2075.8,1388.9 2079.3,1406.2 2083.0,1414.9C2085.4,1420.5 2087.2,1423.3 2090.1,1428.1C2093.7,1434.1 2098.1,1447.1 2103.2,1448.0C2107.8,1448.8 2113.4,1436.3 2119.0,1436.5C2125.7,1436.8 2133.3,1454.5 2140.6,1455.2C2147.2,1455.9 2154.2,1448.1 2160.8,1443.7C2167.7,1439.1 2173.6,1431.7 2180.9,1427.9C2188.0,1424.2 2198.1,1425.6 2204.0,1420.7C2210.3,1415.4 2213.7,1406.5 2216.9,1396.2C2221.6,1381.1 2221.7,1358.8 2224.1,1337.2C2227.0,1311.2 2230.0,1278.3 2232.8,1250.8C2235.3,1225.7 2237.3,1197.5 2240.0,1178.8C2241.7,1166.7 2243.2,1149.1 2245.5,1149.0C2247.6,1148.9 2250.7,1162.6 2252.9,1173.0C2256.7,1191.4 2258.6,1224.2 2261.6,1250.8C2264.8,1278.8 2268.1,1310.7 2271.6,1337.2C2274.6,1360.0 2277.9,1379.4 2281.1,1400.5"/>
<path stroke="#008000" d="M310.4,1485.2C310.9,1485.8 311.4,1486.9 312.0,1486.9C312.5,1487.0 313.1,1486.1 313.6,1485.8C314.1,1485.5 314.7,1484.9 315.2,1485.0C315.8,1485.1 316.2,1486.5 316.8,1486.6C317.3,1486.6 317.9,1485.9 318.4,1485.6C318.9,1485.4 319.5,1485.1 320.0,1485.2C320.6,1485.4 321.0,1486.7 321.6,1486.8C322.1,1486.9 322.7,1485.8 323.2,1485.9C323.7,1485.9 324.3,1487.2 324.8,1487.2C325.3,1487.2 325.8,1486.1 326.4,1485.8C326.9,1485.6 327.5,1485.4 328.0,1485.6C328.6,1485.8 329.0,1487.5 329.6,1487.5C330.1,1487.6 330.6,1486.8 331.2,1486.6C331.7,1486.4 332.3,1486.4 332.8,1486.3C333.3,1486.2 333.9,1485.8 334.4,1485.9C334.9,1485.9 335.5,1486.6 336.0,1486.5C336.6,1486.4 337.0,1485.5 337.6,1485.4C338.1,1485.2 338.7,1485.2 339.2,1485.4C339.8,1485.7 340.2,1487.1 340.8,1487.3C341.3,1487.5 341.9,1487.4 342.4,1487.2C342.9,1487.1 343.5,1486.7 344.0,1486.4C344.5,1486.2 345.1,1486.1 345.6,1485.9C346.1,1485.8 346.7,1485.6 347.2,1485.5C347.7,1485.3 348.3,1485.5 348.8,1485.2C349.4,1484.8 349.9,1482.7 350.4,1482.7C350.9,1482.7 351.4,1485.0 352.0,1485.0C352.5,1485.1 353.1,1484.0 353.6,1483.5C354.1,1482.9 354.7,1481.7 355.2,1481.8C355.8,1481.9 356.1,1484.6 356.8,1485.3C357.3,1485.7 357.9,1486.0 358.4,1485.8C359.1,1485.5 359.4,1482.5 360.0,1482.5C360.5,1482.5 360.9,1484.7 361.6,1485.1C362.1,1485.4 362.7,1485.3 363.2,1485.4C363.7,1485.5 364.3,1485.3 364.8,1485.7C365.5,1486.3 365.9,1489.2 366.4,1489.2C366.9,1489.2 367.4,1486.6 368.0,1485.5C368.5,1484.5 369.1,1482.7 369.6,1482.8C370.3,1482.8 370.7,1489.0 371.2,1489.0C371.7,1489.0 372.1,1484.2 372.8,1482.7C373.3,1481.8 373.9,1480.7 374.4,1480.8C375.0,1480.9 375.4,1483.8 376.0,1484.9C376.5,1485.7 377.0,1486.8 377.6,1487.0C378.1,1487.2 378.7,1487.0 379.2,1486.6C379.9,1486.0 380.3,1482.8 380.8,1482.8C381.3,1482.8 381.7,1486.0 382.4,1486.5C382.9,1486.9 383.5,1486.6 384.0,1486.7C384.5,1486.8 385.2,1487.3 385.6,1487.0C386.5,1486.4 386.7,1480.0 387.2,1480.0C387.9,1480.1 387.4,1494.8 388.8,1496.0C389.2,1496.4 390.0,1496.4 390.4,1496.0C391.7,1494.8 390.9,1482.3 392.0,1482.0C392.4,1481.8 393.1,1483.1 393.6,1483.7C394.1,1484.3 394.7,1485.7 395.2,1485.6C395.8,1485.5 396.2,1481.7 396.8,1481.7C397.3,1481.7 397.7,1484.3 398.4,1484.7C398.9,1485.0 399.5,1484.6 400.0,1484.7C400.5,1484.7 401.2,1485.1 401.6,1484.8C402.4,1484.2 402.6,1479.9 403.2,1479.9C403.7,1479.9 404.1,1483.2 404.8,1483.4C405.3,1483.5 405.9,1482.1 406.4,1482.2C407.0,1482.3 407.3,1484.8 408.0,1485.1C408.5,1485.3 409.1,1484.9 409.6,1484.6C410.2,1484.4 410.6,1483.8 411.2,1483.6C411.7,1483.4 412.4,1482.9 412.8,1483.1C413.6,1483.6 413.9,1488.8 414.4,1488.8C414.9,1488.8 415.3,1484.5 416.0,1483.3C416.5,1482.5 417.1,1481.5 417.6,1481.6C418.4,1481.8 418.7,1488.4 419.2,1488.4C419.8,1488.4 420.1,1478.6 420.8,1478.5C421.3,1478.5 421.6,1482.2 422.4,1482.8C422.9,1483.1 423.5,1482.6 424.0,1483.0C424.7,1483.4 425.1,1485.9 425.6,1485.9C426.2,1485.8 426.5,1481.9 427.2,1481.6C427.7,1481.4 428.3,1482.0 428.8,1482.4C429.4,1483.1 429.9,1485.4 430.4,1485.3C431.1,1485.2 431.5,1477.6 432.0,1477.6C432.5,1477.6 432.6,1484.8 433.6,1485.6C434.0,1485.9 434.7,1485.7 435.2,1485.4C435.9,1484.9 436.1,1482.3 436.8,1482.1C437.3,1481.9 437.9,1482.5 438.4,1483.0C439.0,1483.5 439.4,1485.0 440.0,1485.3C440.5,1485.4 441.1,1484.7 441.6,1484.8C442.1,1484.8 442.7,1485.3 443.2,1485.7C443.7,1486.1 444.4,1487.2 444.8,1487.0C445.6,1486.8 445.8,1480.6 446.4,1480.6C446.9,1480.5 447.3,1484.0 448.0,1484.7C448.5,1485.2 449.1,1485.4 449.6,1485.3C450.2,1485.1 450.7,1484.4 451.2,1483.7C451.8,1482.9 452.3,1480.6 452.8,1480.6C453.3,1480.6 453.8,1483.6 454.4,1483.7C454.9,1483.8 455.5,1482.4 456.0,1482.4C456.5,1482.3 457.2,1482.7 457.6,1483.4C458.5,1484.6 458.6,1490.2 459.2,1490.2C459.7,1490.3 460.3,1487.3 460.8,1485.8C461.3,1484.4 461.7,1481.8 462.4,1481.5C462.9,1481.3 463.5,1482.2 464.0,1482.1C464.6,1481.9 465.1,1480.4 465.6,1480.4C466.1,1480.4 466.6,1482.4 467.2,1482.4C467.7,1482.5 468.3,1481.6 468.8,1480.9C469.5,1479.9 469.7,1477.5 470.4,1476.9C470.9,1476.5 471.5,1476.9 472.0,1476.6C472.7,1476.1 473.0,1474.3 473.6,1473.8C474.1,1473.3 474.8,1472.9 475.2,1473.1C476.0,1473.5 476.3,1479.1 476.8,1479.1C477.3,1479.1 477.8,1472.6 478.4,1472.5C478.9,1472.5 479.3,1475.8 480.0,1476.3C480.5,1476.6 481.1,1476.4 481.6,1476.3C482.1,1476.2 482.7,1476.1 483.2,1475.6C483.9,1474.9 484.2,1472.9 484.8,1471.7C485.3,1470.7 485.8,1469.5 486.4,1468.8C486.9,1468.2 487.5,1467.4 488.0,1467.5C488.6,1467.7 489.1,1470.9 489.6,1470.9C490.2,1470.8 490.4,1466.9 491.2,1466.3C491.7,1465.9 492.3,1465.9 492.8,1466.1C493.5,1466.6 494.0,1470.1 494.4,1470.1C495.2,1469.9 495.3,1455.3 496.0,1455.2C496.5,1455.1 496.9,1460.4 497.6,1460.6C498.1,1460.7 498.7,1459.7 499.2,1458.9C499.9,1457.8 500.0,1454.8 500.8,1454.4C501.3,1454.2 501.9,1454.7 502.4,1455.0C503.0,1455.4 503.5,1456.1 504.0,1456.6C504.5,1457.1 505.1,1458.3 505.6,1458.3C506.1,1458.3 506.7,1457.5 507.2,1457.0C507.8,1456.4 508.3,1455.6 508.8,1454.9C509.3,1454.2 509.9,1453.5 510.4,1452.6C511.0,1451.3 511.5,1447.7 512.0,1447.7C512.5,1447.7 513.0,1452.8 513.6,1452.9C514.1,1452.9 514.5,1450.0 515.2,1449.4C515.7,1449.0 516.3,1449.4 516.8,1449.1C517.4,1448.7 517.9,1447.2 518.4,1447.2C519.0,1447.3 519.5,1449.9 520.0,1449.9C520.6,1449.8 521.0,1447.1 521.6,1445.8C522.1,1444.6 522.6,1443.2 523.2,1442.4C523.7,1441.8 524.3,1441.1 524.8,1441.1C525.3,1441.0 525.9,1442.1 526.4,1442.0C527.0,1441.9 527.4,1440.4 528.0,1440.1C528.5,1439.8 529.1,1439.9 529.6,1439.9C530.1,1439.9 530.8,1440.4 531.2,1440.1C532.0,1439.6 532.2,1434.8 532.8,1434.8C533.3,1434.7 533.7,1437.2 534.4,1437.7C534.9,1438.1 535.5,1438.2 536.0,1438.0C536.7,1437.6 537.1,1434.6 537.6,1434.7C538.2,1434.7 538.7,1439.0 539.2,1438.9C539.8,1438.9 539.9,1433.6 540.8,1432.7C541.2,1432.2 541.9,1432.4 542.4,1432.1C543.0,1431.8 543.4,1430.9 544.0,1430.7C544.5,1430.5 545.1,1431.0 545.6,1430.7C546.3,1430.2 546.5,1427.6 547.2,1426.9C547.7,1426.5 548.3,1426.2 548.8,1426.4C549.4,1426.5 549.9,1428.2 550.4,1428.1C551.1,1427.9 551.3,1422.2 552.0,1422.1C552.5,1421.9 553.0,1423.6 553.6,1424.0C554.1,1424.3 554.8,1424.8 555.2,1424.6C556.0,1424.2 556.3,1419.5 556.8,1419.5C557.3,1419.5 557.9,1424.6 558.4,1424.6C559.0,1424.6 559.3,1420.0 560.0,1418.8C560.5,1418.0 561.1,1417.1 561.6,1417.2C562.2,1417.2 562.6,1419.2 563.2,1419.8C563.7,1420.1 564.3,1420.2 564.8,1420.4C565.3,1420.6 566.0,1421.1 566.4,1420.8C567.3,1420.3 567.3,1415.7 568.0,1414.0C568.5,1412.8 569.0,1412.0 569.6,1411.2C570.1,1410.5 570.6,1409.4 571.2,1409.2C571.7,1409.1 572.3,1409.6 572.8,1410.0C573.4,1410.5 573.8,1411.9 574.4,1412.2C574.9,1412.5 575.5,1412.5 576.0,1412.3C576.6,1411.9 577.0,1410.0 577.6,1410.0C578.1,1409.9 578.7,1411.7 579.2,1411.6C579.8,1411.5 580.1,1408.7 580.8,1408.4C581.3,1408.2 581.9,1409.1 582.4,1408.9C583.0,1408.7 583.4,1407.4 584.0,1407.0C584.5,1406.7 585.1,1406.9 585.6,1406.6C586.2,1406.2 586.6,1404.8 587.2,1404.3C587.7,1403.9 588.3,1404.0 588.8,1403.7C589.3,1403.4 589.8,1402.9 590.4,1402.7C590.9,1402.4 591.5,1402.4 592.0,1402.2C592.5,1402.0 592.8,1401.9 593.6,1401.5C595.6,1400.6 600.6,1397.5 604.7,1395.9C609.3,1394.1 614.6,1392.3 619.7,1391.4C624.6,1390.5 629.7,1390.2 634.7,1390.6C639.7,1391.0 644.3,1392.1 649.7,1393.6C656.5,1395.5 664.1,1400.1 672.1,1401.8C680.8,1403.6 692.2,1402.9 700.0,1403.6C705.7,1404.1 707.7,1404.3 714.6,1405.2C731.3,1407.3 780.4,1417.1 800.0,1417.8C810.3,1418.2 815.0,1415.4 823.6,1416.1C834.3,1417.0 847.1,1424.2 858.9,1424.8C870.6,1425.4 886.0,1417.9 894.3,1420.1C899.6,1421.5 900.8,1426.0 906.0,1429.1C914.4,1434.2 928.5,1441.1 941.4,1445.6C955.8,1450.6 972.7,1454.0 988.5,1456.9C1004.1,1459.8 1017.2,1460.8 1035.6,1463.2C1061.6,1466.6 1100.7,1472.7 1129.9,1475.0C1155.1,1477.0 1175.0,1476.0 1200.6,1477.4C1230.9,1479.0 1265.4,1483.0 1300.0,1484.7C1337.6,1486.6 1379.6,1486.7 1417.8,1487.8C1454.1,1488.9 1495.5,1492.4 1523.8,1491.3C1542.7,1490.6 1558.6,1491.5 1571.0,1486.1C1581.0,1481.8 1587.8,1470.9 1594.5,1466.1C1599.0,1462.9 1602.5,1461.6 1606.3,1459.0C1610.0,1456.5 1614.2,1454.7 1616.9,1450.8C1620.2,1445.9 1621.0,1430.7 1622.8,1430.8C1625.0,1430.9 1624.2,1454.1 1628.7,1462.6C1632.6,1470.1 1641.1,1480.5 1646.4,1480.3C1651.2,1480.1 1655.4,1466.7 1659.3,1464.9C1661.4,1463.9 1663.2,1463.8 1665.2,1464.9C1669.1,1467.1 1671.5,1482.5 1677.0,1485.0C1682.0,1487.3 1691.0,1480.8 1695.9,1481.4C1699.3,1481.8 1701.6,1485.8 1704.1,1485.0C1707.7,1483.9 1711.0,1469.4 1713.5,1469.7C1716.1,1470.0 1715.3,1484.5 1719.4,1487.3C1723.5,1490.1 1733.2,1485.3 1738.3,1486.1C1742.0,1486.7 1744.3,1489.5 1747.7,1489.7C1751.5,1489.9 1756.8,1488.5 1760.0,1486.6C1762.7,1485.0 1763.8,1481.2 1766.4,1480.1C1769.1,1479.0 1773.1,1481.5 1776.0,1480.1C1779.7,1478.3 1783.0,1472.6 1785.6,1468.1C1788.4,1463.3 1789.7,1454.6 1792.0,1452.1C1793.1,1451.0 1794.2,1450.3 1795.3,1450.5C1796.7,1450.8 1797.9,1455.5 1799.3,1455.3C1801.9,1455.0 1805.9,1443.0 1808.1,1436.1C1810.5,1428.7 1811.4,1419.9 1812.9,1412.0C1814.3,1404.5 1815.6,1399.5 1816.9,1390.0C1819.3,1373.1 1821.4,1341.5 1824.1,1318.8C1826.6,1297.8 1829.2,1278.4 1832.6,1258.3C1836.0,1238.1 1840.4,1216.8 1844.7,1197.8C1848.5,1180.7 1852.8,1165.5 1856.8,1149.4C1860.8,1133.3 1865.1,1118.1 1868.9,1101.0C1873.2,1082.0 1877.6,1060.7 1881.0,1040.5C1884.4,1020.4 1887.1,1000.3 1889.5,980.0C1891.9,959.7 1892.6,937.7 1895.5,918.8C1898.0,902.3 1901.2,873.2 1905.2,872.8C1908.0,872.5 1912.1,884.7 1914.9,894.6C1920.2,913.5 1922.9,952.7 1925.8,980.0C1928.4,1005.2 1929.9,1026.7 1931.8,1052.6C1934.0,1082.5 1935.7,1117.1 1937.9,1149.4C1940.1,1181.7 1942.6,1215.0 1945.1,1246.2C1947.4,1275.4 1950.4,1306.5 1952.4,1330.9C1953.9,1349.5 1953.6,1365.9 1956.3,1380.0C1958.4,1391.0 1960.6,1403.8 1965.1,1408.8C1967.8,1411.7 1971.7,1410.7 1974.7,1412.8C1978.2,1415.3 1981.2,1419.4 1984.3,1423.3C1987.7,1427.6 1990.5,1433.0 1993.9,1437.7C1997.4,1442.6 2001.7,1446.5 2005.2,1452.1C2009.4,1458.9 2011.7,1470.3 2016.4,1476.1C2020.1,1480.6 2024.9,1485.3 2029.2,1485.8C2032.9,1486.2 2037.3,1484.1 2040.4,1480.9C2044.9,1476.2 2046.8,1464.0 2050.0,1456.9C2052.7,1451.0 2054.4,1443.4 2058.0,1440.9C2060.7,1439.1 2064.8,1438.5 2067.6,1440.1C2071.8,1442.5 2073.4,1454.5 2077.3,1460.1C2080.7,1465.0 2084.9,1467.7 2088.8,1472.5C2093.5,1478.3 2097.9,1491.9 2103.2,1492.6C2108.0,1493.2 2115.1,1478.9 2119.0,1479.7C2122.4,1480.3 2122.7,1489.5 2126.2,1492.6C2129.8,1495.8 2135.0,1498.6 2140.6,1498.4C2148.6,1498.1 2159.1,1487.6 2169.4,1484.0C2180.2,1480.3 2197.2,1482.2 2204.0,1476.8C2208.7,1473.0 2208.9,1467.5 2211.2,1461.0C2214.7,1451.3 2218.1,1438.1 2221.2,1423.5C2225.5,1403.5 2228.7,1375.6 2232.8,1351.6C2236.9,1327.6 2241.4,1279.7 2245.7,1279.6C2249.1,1279.5 2252.7,1305.8 2255.8,1322.8C2260.1,1346.6 2262.7,1382.0 2267.3,1409.1C2271.5,1433.5 2276.9,1455.2 2281.7,1478.2"/>
<path stroke="#ff8000" d="M310.4,1537.3C310.9,1536.9 311.4,1536.3 312.0,1536.1C312.5,1535.8 313.1,1535.8 313.6,1535.7C314.1,1535.7 314.7,1535.8 315.2,1535.8C315.7,1535.9 316.3,1536.2 316.8,1536.1C317.4,1535.9 317.9,1534.8 318.4,1534.9C319.0,1535.0 319.4,1537.4 320.0,1537.5C320.5,1537.6 321.1,1536.6 321.6,1536.6C322.1,1536.6 322.7,1537.6 323.2,1537.4C323.9,1537.2 324.2,1534.4 324.8,1534.3C325.3,1534.2 325.9,1535.2 326.4,1535.6C326.9,1536.0 327.5,1536.9 328.0,1536.8C328.5,1536.8 329.1,1535.3 329.6,1535.3C330.1,1535.3 330.6,1536.3 331.2,1536.7C331.7,1537.1 332.3,1537.6 332.8,1537.6C333.3,1537.6 333.9,1537.2 334.4,1536.7C335.1,1536.0 335.3,1533.4 336.0,1533.3C336.5,1533.1 337.1,1533.9 337.6,1534.3C338.2,1534.9 338.6,1536.2 339.2,1536.3C339.7,1536.4 340.2,1535.4 340.8,1535.0C341.3,1534.7 341.9,1534.2 342.4,1534.3C343.0,1534.5 343.5,1536.7 344.0,1536.7C344.6,1536.7 345.1,1533.7 345.6,1533.7C346.1,1533.7 346.5,1536.5 347.2,1537.0C347.7,1537.4 348.3,1537.5 348.8,1537.2C349.5,1536.9 349.8,1534.6 350.4,1534.4C350.9,1534.3 351.5,1535.2 352.0,1535.1C352.6,1535.0 353.1,1533.7 353.6,1533.8C354.2,1534.0 354.6,1537.1 355.2,1537.1C355.7,1537.1 356.3,1534.4 356.8,1534.4C357.4,1534.5 357.8,1539.0 358.4,1539.0C358.9,1539.0 359.3,1535.9 360.0,1535.5C360.5,1535.2 361.1,1535.3 361.6,1535.7C362.3,1536.3 362.7,1539.7 363.2,1539.6C363.8,1539.6 364.1,1532.9 364.8,1532.8C365.3,1532.7 365.8,1534.6 366.4,1534.8C366.9,1535.0 367.5,1534.7 368.0,1534.4C368.6,1534.2 369.1,1533.3 369.6,1533.4C370.2,1533.5 370.7,1535.6 371.2,1535.5C371.8,1535.4 372.3,1532.1 372.8,1532.1C373.4,1532.1 373.8,1535.4 374.4,1536.7C374.9,1537.9 375.5,1539.8 376.0,1539.8C376.6,1539.7 376.8,1534.5 377.6,1534.2C378.0,1534.0 378.7,1534.8 379.2,1535.1C379.8,1535.5 380.3,1536.6 380.8,1536.5C381.4,1536.4 381.8,1534.3 382.4,1534.0C382.9,1533.8 383.5,1534.5 384.0,1534.3C384.6,1534.1 385.1,1533.0 385.6,1532.0C386.3,1530.3 386.8,1524.7 387.2,1524.7C388.0,1524.8 387.0,1547.1 388.8,1548.7C389.3,1549.1 390.0,1549.1 390.4,1548.7C392.0,1547.2 391.1,1528.7 392.0,1528.6C392.4,1528.6 392.9,1532.3 393.6,1533.5C394.1,1534.3 394.7,1535.3 395.2,1535.3C395.7,1535.3 396.3,1534.4 396.8,1533.8C397.4,1533.0 397.9,1530.9 398.4,1531.0C399.0,1531.0 399.3,1534.5 400.0,1534.6C400.5,1534.7 401.0,1533.5 401.6,1533.3C402.1,1533.1 402.7,1533.4 403.2,1533.2C403.8,1533.1 404.3,1532.2 404.8,1532.4C405.4,1532.6 405.8,1534.6 406.4,1535.1C406.9,1535.5 407.5,1535.9 408.0,1535.6C408.7,1535.3 408.9,1532.0 409.6,1531.8C410.1,1531.7 410.7,1532.4 411.2,1533.0C411.8,1533.7 412.3,1536.0 412.8,1535.9C413.4,1535.9 413.7,1531.2 414.4,1531.0C414.9,1530.9 415.4,1532.1 416.0,1532.3C416.5,1532.5 417.1,1532.1 417.6,1532.4C418.3,1532.8 418.6,1534.9 419.2,1535.1C419.7,1535.2 420.3,1534.3 420.8,1534.3C421.3,1534.3 421.9,1535.4 422.4,1535.4C423.0,1535.3 423.5,1533.5 424.0,1533.6C424.7,1533.8 425.1,1538.2 425.6,1538.2C426.2,1538.1 426.6,1531.4 427.2,1531.4C427.7,1531.4 428.2,1536.8 428.8,1536.8C429.3,1536.8 429.7,1533.4 430.4,1532.9C430.9,1532.6 431.5,1533.2 432.0,1533.0C432.6,1532.7 433.1,1530.9 433.6,1531.0C434.2,1531.0 434.7,1532.6 435.2,1533.6C435.8,1534.9 436.3,1538.3 436.8,1538.3C437.4,1538.3 437.8,1529.4 438.4,1529.3C438.9,1529.3 439.3,1533.5 440.0,1534.7C440.5,1535.4 441.0,1536.1 441.6,1536.2C442.1,1536.3 442.7,1535.4 443.2,1535.3C443.7,1535.3 444.4,1536.4 444.8,1536.1C445.7,1535.7 445.8,1529.4 446.4,1529.4C446.9,1529.3 447.3,1532.8 448.0,1533.6C448.5,1534.2 449.1,1534.0 449.6,1534.5C450.3,1535.4 450.6,1539.1 451.2,1539.1C451.7,1539.2 452.3,1537.8 452.8,1536.9C453.4,1535.8 453.8,1534.1 454.4,1533.1C454.9,1532.4 455.4,1531.9 456.0,1531.4C456.5,1531.0 457.0,1530.7 457.6,1530.5C458.1,1530.3 458.7,1530.4 459.2,1530.3C459.7,1530.2 460.3,1530.1 460.8,1530.1C461.3,1530.1 461.9,1530.2 462.4,1530.4C462.9,1530.5 463.5,1531.0 464.0,1530.8C464.7,1530.4 465.0,1527.3 465.6,1527.2C466.1,1527.1 466.6,1528.4 467.2,1528.5C467.7,1528.5 468.3,1527.4 468.8,1527.6C469.5,1527.9 469.9,1532.0 470.4,1531.9C471.1,1531.8 471.2,1519.8 472.0,1519.7C472.5,1519.7 472.9,1523.5 473.6,1523.9C474.1,1524.1 474.7,1523.4 475.2,1523.5C475.8,1523.6 476.3,1524.5 476.8,1524.5C477.3,1524.6 477.9,1524.3 478.4,1523.8C479.1,1523.2 479.5,1521.9 480.0,1520.6C480.6,1518.9 481.0,1514.6 481.6,1514.5C482.1,1514.5 482.7,1517.9 483.2,1518.0C483.7,1518.0 484.3,1514.9 484.8,1514.9C485.4,1515.0 485.9,1518.9 486.4,1518.9C486.9,1518.9 487.5,1517.0 488.0,1515.4C488.8,1512.9 488.9,1504.6 489.6,1504.5C490.1,1504.5 490.7,1509.9 491.2,1509.9C491.9,1509.8 492.0,1497.6 492.8,1497.5C493.2,1497.5 493.7,1500.4 494.4,1501.2C494.9,1501.8 495.6,1502.4 496.0,1502.2C496.8,1501.9 497.0,1496.2 497.6,1496.2C498.1,1496.2 498.7,1500.2 499.2,1500.1C499.8,1500.1 500.0,1495.7 500.8,1495.0C501.2,1494.6 502.0,1495.2 502.4,1494.8C503.3,1493.9 503.4,1488.8 504.0,1488.7C504.5,1488.6 505.0,1491.2 505.6,1492.0C506.1,1492.6 506.7,1493.2 507.2,1493.1C507.8,1493.0 508.2,1491.6 508.8,1491.0C509.3,1490.4 509.8,1489.9 510.4,1489.5C510.9,1489.3 511.5,1489.5 512.0,1489.1C512.7,1488.6 513.1,1487.3 513.6,1486.4C514.1,1485.4 514.5,1483.9 515.2,1483.4C515.7,1483.0 516.3,1483.4 516.8,1483.0C517.4,1482.6 517.8,1481.4 518.4,1480.8C518.9,1480.3 519.6,1479.5 520.0,1479.7C520.9,1480.0 521.0,1487.6 521.6,1487.6C522.1,1487.6 522.6,1483.8 523.2,1482.5C523.7,1481.5 524.3,1481.1 524.8,1480.1C525.5,1478.6 525.8,1474.7 526.4,1474.7C526.9,1474.7 527.4,1478.5 528.0,1478.6C528.5,1478.6 529.1,1475.9 529.6,1476.0C530.2,1476.0 530.5,1478.8 531.2,1479.2C531.7,1479.5 532.4,1479.4 532.8,1479.0C533.9,1478.0 533.8,1469.8 534.4,1469.8C534.9,1469.8 535.3,1475.1 536.0,1475.2C536.5,1475.3 537.1,1473.8 537.6,1473.1C538.2,1472.2 538.7,1470.4 539.2,1470.5C539.8,1470.5 540.3,1475.4 540.8,1475.4C541.4,1475.4 541.8,1471.5 542.4,1469.8C542.9,1468.3 543.3,1466.7 544.0,1465.6C544.5,1464.9 545.1,1463.9 545.6,1464.0C546.2,1464.1 546.6,1467.2 547.2,1467.3C547.7,1467.3 548.2,1465.5 548.8,1465.5C549.3,1465.4 550.0,1466.8 550.4,1466.6C551.2,1466.3 551.4,1459.9 552.0,1459.9C552.5,1459.9 553.0,1464.6 553.6,1464.6C554.1,1464.7 554.5,1461.3 555.2,1460.7C555.7,1460.3 556.3,1460.2 556.8,1460.4C557.4,1460.5 557.9,1462.0 558.4,1461.9C559.0,1461.8 559.4,1459.3 560.0,1459.2C560.5,1459.1 561.1,1460.6 561.6,1460.6C562.1,1460.6 562.6,1459.3 563.2,1459.1C563.7,1458.9 564.3,1459.5 564.8,1459.2C565.5,1458.7 565.9,1455.2 566.4,1455.2C566.9,1455.2 567.5,1458.8 568.0,1458.8C568.6,1458.8 568.8,1455.1 569.6,1454.3C570.1,1453.8 570.7,1454.1 571.2,1453.7C571.9,1453.1 572.1,1450.7 572.8,1450.4C573.3,1450.2 573.9,1450.9 574.4,1450.9C574.9,1450.9 575.5,1450.3 576.0,1450.4C576.5,1450.4 577.1,1451.5 577.6,1451.3C578.2,1451.2 578.6,1449.5 579.2,1448.8C579.7,1448.3 580.2,1447.8 580.8,1447.5C581.3,1447.1 581.9,1447.0 582.4,1446.8C582.9,1446.5 583.5,1446.2 584.0,1445.9C584.5,1445.6 585.1,1445.4 585.6,1445.0C586.1,1444.7 586.7,1444.2 587.2,1443.9C587.7,1443.5 588.0,1443.4 588.8,1442.9C591.4,1441.4 599.4,1436.1 604.7,1433.3C609.7,1430.7 614.6,1427.8 619.7,1426.6C624.6,1425.4 629.7,1425.6 634.7,1425.8C639.7,1426.0 644.3,1426.6 649.7,1428.0C656.5,1429.7 664.1,1434.5 672.1,1436.3C680.8,1438.3 692.2,1438.0 700.0,1438.8C705.7,1439.4 707.7,1439.6 714.6,1440.5C731.3,1442.7 780.4,1451.2 800.0,1453.1C810.3,1454.1 815.0,1452.9 823.6,1454.3C834.3,1456.1 847.4,1463.0 858.9,1464.4C869.4,1465.7 881.1,1461.1 889.5,1463.2C896.1,1464.8 899.5,1468.9 906.0,1472.7C915.6,1478.3 928.3,1488.3 941.4,1493.9C955.6,1500.1 972.7,1504.0 988.5,1507.3C1004.1,1510.5 1017.2,1511.0 1035.6,1513.4C1061.6,1516.9 1100.7,1523.7 1129.9,1526.2C1155.1,1528.4 1175.0,1527.6 1200.6,1528.7C1230.9,1530.0 1265.5,1532.9 1300.0,1533.5C1337.6,1534.2 1379.6,1532.5 1417.8,1532.1C1454.1,1531.7 1498.0,1533.2 1523.8,1530.9C1538.8,1529.6 1549.4,1527.9 1559.2,1525.0C1566.6,1522.8 1571.9,1521.3 1578.0,1516.8C1586.1,1510.9 1594.4,1492.7 1601.6,1489.7C1605.7,1488.0 1610.0,1491.0 1613.4,1490.4C1616.1,1489.9 1618.3,1486.6 1620.5,1487.3C1623.7,1488.4 1625.0,1499.9 1628.7,1502.6C1631.6,1504.7 1636.0,1503.2 1639.3,1504.5C1642.7,1505.9 1645.4,1510.9 1648.7,1510.9C1652.4,1510.9 1657.2,1505.4 1660.5,1502.6C1663.3,1500.3 1665.1,1495.3 1667.6,1495.6C1671.3,1496.0 1673.9,1512.3 1679.4,1514.4C1684.9,1516.5 1696.3,1507.4 1700.6,1508.5C1703.0,1509.1 1702.9,1512.1 1705.3,1513.2C1709.3,1515.0 1717.5,1514.9 1724.1,1514.4C1731.6,1513.8 1741.1,1510.4 1747.7,1509.2C1752.4,1508.3 1755.9,1509.3 1760.0,1507.4C1765.3,1505.0 1771.8,1498.4 1776.0,1493.8C1779.4,1490.1 1781.0,1485.3 1784.0,1482.5C1786.5,1480.2 1789.6,1480.4 1792.0,1477.7C1795.8,1473.5 1799.3,1464.0 1801.7,1456.9C1804.0,1450.1 1805.2,1443.5 1806.5,1436.1C1808.0,1427.7 1808.6,1418.0 1809.7,1408.8C1810.8,1399.3 1811.9,1390.2 1813.0,1380.0C1814.3,1368.4 1815.6,1356.9 1816.9,1343.0C1818.5,1325.3 1819.7,1301.5 1821.7,1282.5C1823.5,1265.4 1825.6,1250.2 1827.8,1234.1C1830.0,1218.0 1832.2,1201.8 1835.0,1185.7C1837.8,1169.5 1841.1,1153.4 1844.7,1137.3C1848.3,1121.1 1852.8,1105.0 1856.8,1088.9C1860.8,1072.8 1865.2,1057.6 1868.9,1040.5C1873.0,1021.5 1877.4,999.2 1879.8,980.0C1882.0,962.8 1881.6,948.1 1883.4,930.9C1885.4,911.8 1889.2,889.9 1891.9,870.4C1894.4,852.1 1895.9,830.4 1899.2,817.2C1901.3,809.0 1903.8,797.9 1906.4,797.8C1909.0,797.7 1912.6,808.9 1914.9,817.2C1918.6,830.4 1919.8,851.3 1922.1,870.4C1924.7,892.7 1927.6,922.8 1929.4,943.0C1930.7,957.4 1931.2,965.6 1932.3,980.0C1933.9,1000.2 1936.3,1026.7 1937.9,1052.6C1939.8,1082.5 1941.0,1118.2 1942.7,1149.4C1944.3,1178.6 1945.7,1207.0 1947.6,1234.1C1949.4,1259.2 1951.6,1282.9 1953.6,1306.7C1955.6,1329.8 1956.5,1357.1 1959.5,1375.0C1961.5,1386.8 1962.3,1398.2 1966.7,1404.0C1969.6,1407.8 1974.5,1407.2 1977.9,1410.4C1982.2,1414.5 1985.6,1421.6 1989.1,1428.1C1993.1,1435.4 1996.3,1444.2 2000.3,1452.1C2004.3,1460.2 2009.4,1468.1 2013.2,1476.1C2016.8,1483.6 2019.1,1493.4 2022.8,1498.6C2025.2,1502.0 2028.0,1505.7 2030.8,1505.8C2033.8,1505.9 2037.8,1502.4 2040.4,1498.6C2044.5,1492.5 2045.7,1479.0 2048.4,1469.7C2051.0,1460.9 2053.3,1449.6 2056.4,1444.1C2058.1,1441.0 2060.1,1437.6 2062.0,1437.7C2064.3,1437.8 2066.9,1443.0 2069.2,1447.3C2072.8,1454.1 2074.9,1468.1 2078.9,1476.1C2082.1,1482.5 2086.2,1486.6 2090.1,1492.2C2094.3,1498.3 2098.1,1510.3 2103.2,1511.4C2107.5,1512.3 2113.0,1502.1 2117.6,1502.7C2122.7,1503.3 2126.7,1514.9 2132.0,1517.1C2136.5,1518.9 2141.0,1518.5 2146.4,1517.1C2154.6,1515.0 2166.2,1506.3 2175.2,1501.3C2183.3,1496.8 2191.7,1494.5 2198.2,1488.3C2205.4,1481.5 2211.0,1473.1 2215.5,1461.0C2222.6,1441.7 2223.4,1409.6 2227.0,1380.3C2231.2,1345.4 2233.2,1289.7 2238.5,1265.2C2241.1,1253.3 2244.4,1239.2 2247.2,1239.3C2250.2,1239.4 2253.2,1257.4 2255.8,1270.9C2260.3,1294.0 2263.1,1333.6 2267.3,1366.0C2271.7,1399.8 2276.9,1435.1 2281.7,1469.6"/>
<path stroke="#800080" d="M310.4,1600.0C310.9,1600.0 311.5,1600.2 312.0,1600.1C312.6,1599.9 313.0,1599.2 313.6,1599.0C314.1,1598.8 314.7,1599.0 315.2,1598.9C315.7,1598.8 316.3,1598.5 316.8,1598.5C317.3,1598.5 317.9,1598.8 318.4,1598.9C318.9,1599.1 319.5,1599.3 320.0,1599.2C320.5,1599.2 321.1,1599.0 321.6,1598.9C322.1,1598.8 322.7,1598.6 323.2,1598.5C323.7,1598.4 324.3,1598.2 324.8,1598.3C325.3,1598.4 325.9,1598.8 326.4,1598.9C326.9,1599.0 327.5,1599.0 328.0,1598.8C328.6,1598.6 329.1,1597.6 329.6,1597.6C330.1,1597.6 330.7,1598.8 331.2,1598.8C331.7,1598.8 332.2,1597.7 332.8,1597.3C333.3,1597.1 333.9,1596.7 334.4,1596.9C335.0,1597.0 335.4,1598.4 336.0,1598.6C336.5,1598.8 337.1,1598.6 337.6,1598.5C338.1,1598.4 338.7,1598.1 339.2,1597.9C339.7,1597.7 340.3,1597.3 340.8,1597.4C341.4,1597.6 341.8,1599.0 342.4,1599.0C342.9,1599.0 343.5,1597.9 344.0,1597.8C344.5,1597.8 345.1,1599.0 345.6,1598.9C346.2,1598.7 346.6,1596.7 347.2,1596.3C347.7,1595.9 348.3,1595.9 348.8,1596.0C349.4,1596.1 349.9,1597.2 350.4,1597.2C350.9,1597.2 351.5,1596.3 352.0,1596.3C352.5,1596.4 353.0,1597.2 353.6,1597.5C354.1,1597.7 354.7,1597.9 355.2,1597.9C355.7,1597.9 356.3,1597.6 356.8,1597.4C357.3,1597.3 357.9,1597.0 358.4,1597.0C358.9,1597.1 359.5,1597.7 360.0,1597.8C360.5,1597.8 361.1,1597.6 361.6,1597.2C362.2,1596.7 362.6,1594.8 363.2,1594.8C363.7,1594.8 364.3,1596.0 364.8,1596.7C365.4,1597.6 365.8,1599.5 366.4,1599.6C366.9,1599.6 367.5,1598.6 368.0,1598.2C368.5,1597.7 369.1,1597.1 369.6,1596.6C370.1,1596.0 370.6,1595.3 371.2,1594.8C371.7,1594.3 372.3,1593.5 372.8,1593.5C373.4,1593.6 373.8,1594.7 374.4,1595.2C374.9,1595.7 375.5,1596.4 376.0,1596.4C376.5,1596.4 377.1,1595.0 377.6,1595.0C378.1,1595.0 378.7,1596.5 379.2,1596.5C379.7,1596.5 380.3,1594.9 380.8,1595.0C381.4,1595.0 381.8,1596.5 382.4,1597.0C382.9,1597.4 383.5,1598.0 384.0,1597.8C384.7,1597.6 385.0,1594.7 385.6,1593.5C386.1,1592.6 386.8,1591.1 387.2,1591.2C388.2,1591.5 387.5,1604.0 388.8,1605.1C389.2,1605.4 390.0,1605.4 390.4,1604.9C391.6,1603.7 390.9,1592.9 392.0,1592.4C392.4,1592.2 393.1,1593.2 393.6,1593.4C394.1,1593.7 394.7,1594.1 395.2,1594.1C395.7,1594.1 396.3,1594.0 396.8,1593.6C397.5,1593.0 397.9,1590.1 398.4,1590.2C398.9,1590.2 399.3,1593.3 400.0,1594.0C400.5,1594.4 401.1,1594.9 401.6,1594.6C402.4,1594.3 402.7,1589.6 403.2,1589.6C403.7,1589.6 404.1,1593.9 404.8,1594.2C405.3,1594.3 405.9,1593.4 406.4,1593.1C406.9,1592.7 407.4,1592.0 408.0,1591.8C408.5,1591.7 409.1,1591.8 409.6,1592.2C410.3,1592.7 410.6,1595.5 411.2,1595.6C411.7,1595.7 412.3,1594.0 412.8,1594.0C413.4,1594.0 413.8,1596.0 414.4,1596.1C414.9,1596.2 415.5,1595.6 416.0,1595.1C416.6,1594.6 417.0,1593.5 417.6,1593.0C418.1,1592.6 418.7,1592.7 419.2,1592.2C419.8,1591.7 420.3,1589.6 420.8,1589.6C421.3,1589.6 421.8,1592.5 422.4,1592.6C422.9,1592.7 423.5,1591.4 424.0,1591.4C424.5,1591.4 425.1,1592.3 425.6,1592.3C426.1,1592.2 426.7,1591.0 427.2,1591.1C427.8,1591.3 428.3,1594.1 428.8,1594.0C429.4,1594.0 429.9,1588.6 430.4,1588.6C431.0,1588.6 431.3,1595.2 432.0,1595.4C432.5,1595.4 433.1,1593.9 433.6,1592.9C434.2,1591.8 434.6,1588.9 435.2,1588.8C435.7,1588.7 436.2,1591.0 436.8,1591.1C437.3,1591.1 437.8,1589.9 438.4,1589.8C438.9,1589.7 439.5,1589.8 440.0,1590.2C440.7,1590.8 441.1,1593.5 441.6,1593.5C442.2,1593.4 442.5,1588.2 443.2,1588.1C443.7,1588.0 444.2,1590.2 444.8,1590.3C445.3,1590.4 445.8,1589.4 446.4,1589.3C446.9,1589.1 447.5,1588.9 448.0,1589.2C448.7,1589.6 449.1,1592.2 449.6,1592.2C450.2,1592.1 450.6,1587.8 451.2,1587.8C451.7,1587.7 452.3,1590.5 452.8,1590.4C453.4,1590.4 453.7,1587.4 454.4,1587.1C454.9,1586.9 455.5,1587.5 456.0,1587.7C456.5,1587.9 457.1,1588.2 457.6,1588.4C458.1,1588.5 458.7,1588.9 459.2,1588.8C459.8,1588.6 460.3,1587.4 460.8,1587.4C461.4,1587.5 461.9,1590.0 462.4,1590.0C463.1,1589.9 463.5,1584.5 464.0,1584.5C464.6,1584.5 465.1,1590.8 465.6,1590.7C466.2,1590.7 466.6,1582.0 467.2,1582.0C467.7,1582.0 468.3,1588.1 468.8,1588.1C469.3,1588.1 469.5,1582.7 470.4,1582.0C470.8,1581.6 471.5,1581.8 472.0,1581.9C472.5,1581.9 473.1,1582.6 473.6,1582.5C474.2,1582.3 474.6,1580.1 475.2,1579.9C475.7,1579.7 476.3,1580.2 476.8,1580.7C477.5,1581.5 477.6,1584.6 478.4,1585.3C478.9,1585.6 479.6,1585.8 480.0,1585.5C480.9,1584.9 481.1,1581.6 481.6,1579.6C482.1,1577.6 482.4,1573.9 483.2,1573.7C483.7,1573.5 484.3,1575.0 484.8,1574.9C485.5,1574.7 485.8,1572.3 486.4,1571.2C486.9,1570.3 487.4,1568.8 488.0,1568.8C488.5,1568.8 489.1,1570.7 489.6,1570.6C490.2,1570.5 490.5,1568.1 491.2,1567.7C491.7,1567.4 492.4,1567.9 492.8,1567.5C493.7,1566.8 493.6,1561.9 494.4,1561.6C494.9,1561.5 495.6,1563.0 496.0,1562.8C496.9,1562.5 496.8,1554.9 497.6,1554.7C498.1,1554.6 498.7,1556.2 499.2,1556.9C499.7,1557.7 500.3,1559.4 500.8,1559.3C501.5,1559.1 501.4,1552.7 502.4,1552.0C502.8,1551.6 503.5,1551.7 504.0,1552.0C504.8,1552.5 505.1,1556.3 505.6,1556.3C506.2,1556.3 506.6,1552.6 507.2,1550.8C507.7,1549.2 508.1,1546.6 508.8,1546.3C509.3,1546.1 509.9,1546.9 510.4,1547.3C510.9,1547.6 511.5,1548.3 512.0,1548.2C512.6,1548.1 513.0,1546.6 513.6,1545.9C514.1,1545.4 514.7,1545.1 515.2,1544.6C515.8,1543.9 516.2,1542.7 516.8,1542.2C517.3,1541.9 517.9,1541.7 518.4,1541.6C518.9,1541.5 519.5,1541.9 520.0,1541.7C520.7,1541.2 520.9,1539.2 521.6,1538.5C522.1,1538.0 522.7,1538.1 523.2,1537.7C523.8,1537.1 524.3,1534.9 524.8,1535.0C525.4,1535.0 525.8,1538.3 526.4,1538.4C526.9,1538.4 527.5,1537.3 528.0,1536.4C528.7,1535.2 528.8,1532.0 529.6,1531.6C530.1,1531.4 530.7,1532.4 531.2,1532.2C531.9,1532.0 532.1,1529.6 532.8,1529.3C533.3,1529.1 533.9,1529.6 534.4,1529.5C534.9,1529.5 535.5,1528.7 536.0,1528.8C536.7,1529.1 537.0,1533.0 537.6,1533.0C538.1,1533.0 538.7,1531.2 539.2,1530.0C539.8,1528.5 540.0,1525.2 540.8,1524.6C541.2,1524.3 541.9,1524.9 542.4,1524.7C543.0,1524.4 543.4,1522.7 544.0,1522.2C544.5,1521.9 545.1,1521.5 545.6,1521.8C546.3,1522.1 546.7,1525.9 547.2,1525.8C547.8,1525.8 547.9,1519.8 548.8,1519.1C549.2,1518.7 549.9,1519.4 550.4,1519.1C551.1,1518.7 551.4,1516.5 552.0,1516.4C552.5,1516.3 553.1,1518.1 553.6,1518.0C554.2,1517.9 554.6,1514.6 555.2,1514.5C555.7,1514.5 556.3,1517.1 556.8,1517.1C557.3,1517.1 557.9,1515.3 558.4,1514.3C559.0,1513.2 559.3,1511.4 560.0,1510.5C560.5,1510.0 561.0,1509.8 561.6,1509.5C562.1,1509.2 562.7,1509.0 563.2,1508.9C563.7,1508.8 564.3,1509.2 564.8,1509.0C565.4,1508.7 565.9,1507.7 566.4,1507.1C566.9,1506.5 567.4,1505.7 568.0,1505.3C568.5,1505.0 569.1,1505.1 569.6,1504.9C570.1,1504.7 570.7,1504.4 571.2,1504.0C571.8,1503.5 572.2,1502.5 572.8,1502.0C573.3,1501.5 573.9,1501.3 574.4,1501.0C574.9,1500.7 575.5,1500.5 576.0,1500.2C576.5,1499.9 577.1,1499.5 577.6,1499.1C578.1,1498.7 578.4,1498.5 579.2,1498.0C581.2,1496.8 586.0,1494.2 589.8,1491.7C594.4,1488.7 599.6,1484.1 604.7,1481.2C609.6,1478.4 614.6,1475.7 619.7,1474.5C624.6,1473.3 629.7,1473.2 634.7,1473.7C639.7,1474.2 644.3,1475.7 649.7,1477.5C656.5,1479.8 664.1,1485.1 672.1,1487.2C680.7,1489.5 692.2,1489.4 700.0,1490.2C705.6,1490.8 708.7,1490.7 714.6,1491.6C723.7,1493.0 736.5,1497.1 749.2,1499.2C764.5,1501.7 786.3,1503.9 800.0,1504.5C809.3,1504.9 815.0,1503.0 823.6,1504.0C834.3,1505.3 847.2,1512.4 858.9,1513.4C870.0,1514.3 883.4,1508.5 891.9,1510.4C897.8,1511.7 900.2,1515.5 906.0,1518.6C915.1,1523.5 928.5,1531.7 941.4,1536.3C955.7,1541.4 972.7,1544.3 988.5,1546.9C1004.1,1549.5 1017.2,1550.4 1035.6,1552.1C1061.6,1554.4 1100.7,1557.5 1129.9,1558.7C1155.1,1559.8 1175.0,1559.4 1200.6,1559.8C1230.9,1560.3 1268.4,1561.9 1300.0,1561.3C1328.8,1560.7 1351.9,1557.7 1382.5,1556.8C1420.8,1555.7 1479.6,1557.9 1512.1,1556.4C1531.7,1555.5 1547.2,1554.9 1559.2,1552.1C1567.0,1550.3 1572.1,1549.3 1578.0,1545.0C1585.7,1539.3 1592.2,1523.7 1599.2,1518.0C1604.0,1514.1 1609.5,1513.9 1613.4,1510.9C1616.8,1508.3 1619.4,1501.1 1621.6,1501.5C1624.3,1502.0 1624.4,1513.5 1627.5,1519.1C1630.9,1525.3 1636.6,1534.7 1641.7,1536.8C1645.4,1538.3 1650.5,1537.6 1653.4,1535.6C1656.5,1533.4 1656.8,1524.3 1659.3,1523.4C1661.0,1522.8 1663.0,1524.6 1665.2,1526.2C1669.1,1528.9 1674.0,1538.9 1679.4,1540.3C1684.4,1541.6 1691.4,1535.6 1695.9,1535.6C1699.1,1535.6 1701.5,1538.8 1704.1,1538.0C1707.5,1536.9 1711.0,1525.8 1713.5,1526.2C1716.1,1526.6 1715.3,1537.3 1719.4,1540.3C1724.9,1544.3 1740.3,1543.8 1747.7,1542.7C1752.7,1542.0 1755.9,1539.7 1760.0,1537.8C1764.3,1535.7 1768.7,1533.7 1772.8,1530.6C1777.3,1527.2 1781.0,1521.1 1785.6,1517.8C1789.7,1514.9 1795.1,1515.0 1798.5,1511.4C1802.5,1507.1 1804.4,1499.1 1806.5,1492.2C1808.8,1484.7 1809.9,1477.2 1811.3,1468.1C1813.2,1456.5 1814.7,1440.3 1816.1,1428.1C1817.3,1417.9 1818.1,1411.0 1819.3,1400.0C1821.0,1384.3 1822.5,1361.2 1825.3,1343.0C1827.9,1326.1 1831.0,1310.6 1835.0,1294.6C1839.0,1278.4 1844.9,1263.3 1849.5,1246.2C1854.6,1227.2 1859.2,1205.9 1864.1,1185.7C1868.9,1165.5 1874.2,1145.4 1878.6,1125.2C1883.0,1105.1 1887.0,1083.2 1890.7,1064.7C1893.8,1049.0 1895.3,1030.5 1899.2,1021.1C1901.3,1016.0 1903.9,1010.3 1906.4,1010.3C1909.1,1010.3 1912.5,1017.2 1914.9,1022.4C1918.3,1030.0 1920.0,1040.7 1922.1,1052.6C1925.1,1069.2 1927.2,1092.0 1929.4,1113.1C1931.8,1136.2 1933.6,1160.6 1935.5,1185.7C1937.6,1212.8 1939.2,1243.3 1941.5,1270.4C1943.7,1295.5 1946.6,1321.4 1948.8,1343.0C1950.5,1360.4 1951.6,1376.1 1953.5,1390.0C1955.0,1401.2 1956.6,1410.7 1958.7,1420.1C1960.6,1428.6 1961.7,1438.9 1965.1,1444.1C1967.3,1447.4 1970.2,1448.3 1973.1,1450.5C1976.5,1453.1 1980.7,1454.9 1984.3,1458.5C1988.8,1463.0 1993.0,1470.3 1997.1,1476.1C2001.0,1481.6 2004.8,1486.2 2008.4,1492.2C2012.4,1498.9 2014.9,1510.2 2019.6,1514.6C2022.9,1517.7 2027.3,1520.1 2030.8,1519.4C2034.8,1518.6 2038.7,1513.2 2042.0,1508.2C2046.6,1501.1 2049.2,1486.8 2053.2,1479.3C2056.0,1474.0 2058.9,1466.7 2062.0,1466.5C2064.8,1466.3 2068.2,1472.3 2070.8,1476.1C2073.9,1480.6 2075.8,1487.4 2078.9,1492.2C2081.8,1496.7 2085.1,1500.0 2088.8,1504.2C2093.1,1509.2 2098.3,1519.9 2103.2,1520.0C2107.9,1520.1 2112.9,1505.5 2117.6,1505.6C2122.5,1505.7 2126.6,1519.0 2132.0,1521.4C2136.4,1523.3 2141.0,1522.7 2146.4,1521.4C2154.5,1519.5 2166.0,1511.0 2175.2,1507.0C2183.2,1503.5 2191.3,1503.2 2198.2,1498.4C2205.9,1493.1 2213.3,1486.0 2218.4,1475.4C2225.9,1459.7 2225.9,1433.7 2229.9,1409.1C2234.9,1378.4 2239.8,1305.9 2245.7,1305.5C2249.7,1305.3 2255.0,1333.7 2258.7,1351.6C2263.7,1375.7 2265.8,1412.5 2270.2,1437.9C2273.7,1458.3 2277.9,1474.4 2281.7,1492.6"/>
<path stroke="#808000" d="M310.4,1365.6C310.9,1365.4 311.5,1364.9 312.0,1364.9C312.5,1364.9 313.1,1365.4 313.6,1365.5C314.1,1365.5 314.7,1365.4 315.2,1365.3C315.7,1365.1 316.3,1364.6 316.8,1364.5C317.3,1364.5 317.9,1364.8 318.4,1364.9C318.9,1364.9 319.5,1364.9 320.0,1364.8C320.5,1364.8 321.1,1364.6 321.6,1364.5C322.1,1364.4 322.7,1364.3 323.2,1364.2C323.7,1364.1 324.3,1364.0 324.8,1364.0C325.3,1363.9 325.9,1363.9 326.4,1363.9C326.9,1363.9 327.5,1364.0 328.0,1364.0C328.5,1363.9 329.1,1363.8 329.6,1363.7C330.1,1363.6 330.7,1363.5 331.2,1363.5C331.7,1363.4 332.3,1363.4 332.8,1363.4C333.3,1363.4 333.9,1363.4 334.4,1363.4C334.9,1363.5 335.5,1363.7 336.0,1363.7C336.5,1363.6 337.1,1363.3 337.6,1363.0C338.1,1362.8 338.7,1362.4 339.2,1362.4C339.7,1362.4 340.3,1363.0 340.8,1363.0C341.3,1362.9 341.9,1362.0 342.4,1362.0C342.9,1362.0 343.4,1362.8 344.0,1363.0C344.5,1363.1 345.1,1363.2 345.6,1363.1C346.1,1363.0 346.7,1362.7 347.2,1362.4C347.7,1362.1 348.3,1361.5 348.8,1361.4C349.3,1361.4 349.9,1361.9 350.4,1362.1C350.9,1362.4 351.5,1363.0 352.0,1362.9C352.6,1362.8 353.0,1361.5 353.6,1361.3C354.1,1361.2 354.7,1361.7 355.2,1361.8C355.7,1362.0 356.3,1362.0 356.8,1362.0C357.3,1361.9 357.9,1361.6 358.4,1361.5C358.9,1361.4 359.5,1361.3 360.0,1361.3C360.5,1361.3 361.1,1361.3 361.6,1361.3C362.1,1361.3 362.7,1361.0 363.2,1361.1C363.7,1361.1 364.3,1361.6 364.8,1361.5C365.3,1361.5 365.9,1360.9 366.4,1360.7C366.9,1360.5 367.5,1360.2 368.0,1360.3C368.5,1360.3 369.1,1361.1 369.6,1361.0C370.1,1361.0 370.6,1360.1 371.2,1359.9C371.7,1359.7 372.3,1360.0 372.8,1359.9C373.3,1359.9 373.9,1359.8 374.4,1359.8C374.9,1359.8 375.5,1360.2 376.0,1360.1C376.5,1360.1 377.1,1359.6 377.6,1359.4C378.1,1359.3 378.7,1359.3 379.2,1359.2C379.7,1359.1 380.3,1358.7 380.8,1358.6C381.3,1358.5 381.9,1358.4 382.4,1358.5C382.9,1358.6 383.5,1359.3 384.0,1359.3C384.5,1359.3 385.1,1358.9 385.6,1358.6C386.2,1358.3 386.7,1357.1 387.2,1357.3C387.9,1357.5 388.0,1362.1 388.8,1362.6C389.2,1362.9 390.0,1362.8 390.4,1362.5C391.2,1361.8 391.2,1357.9 392.0,1357.4C392.4,1357.2 393.1,1357.6 393.6,1357.7C394.1,1357.8 394.7,1358.2 395.2,1358.2C395.7,1358.2 396.3,1357.8 396.8,1357.8C397.3,1357.8 397.9,1358.2 398.4,1358.2C398.9,1358.2 399.5,1357.8 400.0,1357.7C400.5,1357.6 401.1,1357.5 401.6,1357.5C402.1,1357.5 402.7,1357.8 403.2,1357.8C403.7,1357.8 404.3,1357.8 404.8,1357.8C405.3,1357.7 405.9,1357.6 406.4,1357.4C406.9,1357.3 407.5,1357.2 408.0,1357.1C408.5,1357.1 409.1,1357.3 409.6,1357.1C410.2,1356.9 410.6,1355.7 411.2,1355.6C411.7,1355.5 412.3,1356.1 412.8,1356.3C413.3,1356.5 413.9,1356.5 414.4,1356.6C414.9,1356.7 415.5,1356.9 416.0,1356.8C416.6,1356.6 417.0,1355.8 417.6,1355.6C418.1,1355.4 418.7,1355.5 419.2,1355.5C419.7,1355.5 420.3,1355.8 420.8,1355.8C421.3,1355.8 421.9,1355.4 422.4,1355.4C422.9,1355.4 423.5,1355.9 424.0,1355.9C424.5,1355.9 425.1,1355.7 425.6,1355.5C426.1,1355.2 426.7,1354.7 427.2,1354.7C427.7,1354.6 428.3,1355.2 428.8,1355.4C429.3,1355.7 429.9,1356.1 430.4,1356.0C431.0,1355.9 431.5,1355.3 432.0,1354.9C432.5,1354.5 433.1,1353.6 433.6,1353.6C434.1,1353.6 434.6,1354.8 435.2,1354.9C435.7,1355.0 436.3,1354.2 436.8,1354.2C437.3,1354.3 437.9,1355.1 438.4,1355.0C439.0,1354.9 439.4,1353.8 440.0,1353.5C440.5,1353.3 441.1,1353.5 441.6,1353.6C442.1,1353.7 442.7,1354.2 443.2,1354.1C443.8,1354.0 444.2,1353.1 444.8,1353.0C445.3,1352.9 445.9,1353.2 446.4,1353.3C446.9,1353.4 447.5,1353.7 448.0,1353.8C448.5,1353.9 449.1,1353.9 449.6,1353.9C450.1,1353.9 450.7,1353.9 451.2,1353.8C451.8,1353.6 452.3,1353.1 452.8,1352.8C453.3,1352.5 453.9,1351.8 454.4,1351.8C455.0,1351.9 455.4,1353.2 456.0,1353.5C456.5,1353.8 457.1,1354.0 457.6,1353.8C458.2,1353.7 458.6,1352.4 459.2,1352.3C459.7,1352.3 460.3,1353.2 460.8,1353.2C461.3,1353.2 461.9,1352.6 462.4,1352.4C462.9,1352.2 463.5,1352.2 464.0,1352.1C464.5,1352.1 465.1,1352.2 465.6,1352.2C466.1,1352.1 466.7,1352.0 467.2,1351.9C467.7,1351.7 468.3,1351.6 468.8,1351.5C469.3,1351.4 469.9,1351.5 470.4,1351.3C471.0,1351.1 471.5,1350.6 472.0,1350.2C472.5,1349.8 473.1,1349.3 473.6,1348.9C474.1,1348.6 474.7,1348.2 475.2,1347.8C475.7,1347.5 476.3,1347.0 476.8,1346.6C477.3,1346.2 477.6,1345.9 478.4,1345.4C480.4,1343.9 486.0,1340.7 489.4,1337.4C493.2,1333.7 496.0,1327.6 500.0,1324.0C503.6,1320.8 507.6,1319.2 512.0,1316.5C517.4,1313.3 524.6,1309.2 530.0,1306.0C534.4,1303.4 537.0,1302.0 541.9,1298.8C550.5,1293.2 565.5,1281.9 576.4,1274.6C586.0,1268.2 595.2,1261.4 604.0,1257.3C611.2,1253.9 617.5,1251.5 624.8,1250.4C632.5,1249.3 641.0,1249.9 649.0,1251.1C657.1,1252.4 664.0,1256.5 673.2,1258.0C685.1,1259.9 698.4,1258.1 714.6,1259.4C738.0,1261.3 780.4,1270.2 800.0,1270.7C810.3,1271.0 815.0,1268.1 823.6,1268.9C834.3,1269.9 847.3,1277.4 858.9,1278.5C869.7,1279.5 881.9,1273.9 890.7,1275.9C897.7,1277.5 901.5,1282.4 908.4,1286.0C917.6,1290.9 929.2,1297.6 941.4,1302.0C955.5,1307.1 972.7,1310.7 988.5,1313.6C1004.1,1316.5 1017.2,1317.4 1035.6,1319.5C1061.6,1322.4 1100.7,1327.1 1129.9,1328.9C1155.1,1330.5 1175.0,1330.0 1200.6,1330.6C1230.9,1331.4 1267.3,1333.3 1300.0,1333.2C1331.8,1333.1 1365.0,1330.8 1394.2,1329.9C1419.5,1329.1 1441.3,1328.6 1464.9,1328.0C1488.5,1327.4 1519.6,1327.5 1535.6,1326.3C1543.9,1325.7 1548.1,1326.0 1554.5,1324.0C1562.1,1321.6 1571.2,1316.8 1578.0,1311.5C1584.5,1306.5 1589.2,1297.9 1594.5,1293.4C1598.5,1289.9 1602.0,1287.0 1606.3,1285.6C1610.6,1284.2 1616.5,1283.5 1620.5,1285.1C1624.3,1286.6 1626.6,1291.2 1629.9,1294.5C1633.6,1298.2 1637.5,1305.7 1641.7,1306.3C1645.4,1306.8 1649.4,1300.0 1653.4,1299.7C1657.3,1299.4 1661.5,1304.2 1665.2,1304.0C1668.6,1303.8 1671.9,1298.5 1674.6,1299.2C1677.5,1300.0 1678.1,1308.4 1681.7,1309.8C1686.1,1311.5 1696.6,1304.0 1700.6,1305.1C1702.9,1305.8 1703.6,1309.9 1705.3,1309.8C1707.7,1309.6 1711.3,1298.9 1713.5,1299.2C1715.5,1299.4 1716.1,1309.3 1718.2,1309.8C1720.1,1310.3 1722.8,1304.1 1725.3,1304.0C1727.9,1303.9 1730.3,1309.0 1733.6,1309.8C1737.5,1310.7 1743.3,1309.2 1747.7,1307.5C1752.1,1305.8 1756.1,1301.8 1760.0,1299.5C1763.4,1297.6 1766.1,1297.0 1769.7,1294.6C1775.2,1290.9 1783.5,1283.9 1789.0,1277.7C1794.3,1271.8 1799.0,1267.1 1802.4,1258.3C1807.9,1244.2 1808.3,1218.9 1810.8,1197.8C1813.6,1174.7 1815.7,1149.4 1818.1,1125.2C1820.5,1101.0 1822.7,1074.8 1825.3,1052.6C1827.6,1033.6 1830.2,1017.9 1832.6,1000.0C1835.1,981.4 1836.6,959.8 1839.9,943.0C1842.5,929.4 1846.2,919.7 1849.5,906.7C1853.3,891.7 1857.8,875.4 1861.6,858.3C1865.9,839.3 1870.2,818.9 1873.7,797.8C1877.5,774.8 1880.6,749.4 1883.4,725.2C1886.2,701.0 1889.0,674.3 1890.7,652.6C1892.0,635.0 1892.1,619.6 1893.2,604.8C1894.2,591.9 1895.5,578.6 1896.8,568.5C1897.7,561.1 1897.8,554.7 1899.6,549.5C1901.0,545.5 1903.3,539.7 1905.3,539.5C1907.0,539.3 1909.2,542.6 1910.6,545.5C1912.9,550.1 1913.4,559.3 1914.6,565.9C1915.7,572.2 1916.6,577.5 1917.4,584.3C1918.4,592.6 1919.2,602.8 1920.1,612.0C1921.0,621.2 1922.0,630.4 1922.9,639.6C1923.8,648.8 1924.9,657.7 1925.7,667.3C1926.6,677.7 1927.0,687.4 1927.8,700.0C1928.9,717.3 1930.4,739.4 1931.8,761.5C1933.4,787.5 1935.2,819.1 1936.7,846.2C1938.0,871.3 1939.0,895.6 1940.3,918.8C1941.5,940.1 1942.4,957.3 1943.9,980.0C1945.8,1008.6 1948.8,1046.9 1951.2,1076.8C1953.3,1102.7 1954.8,1128.6 1957.2,1149.4C1959.0,1165.1 1958.6,1180.3 1963.3,1190.6C1966.7,1198.1 1973.5,1201.3 1977.8,1207.5C1982.4,1214.1 1985.5,1221.4 1989.9,1229.3C1995.1,1238.8 2001.8,1250.9 2006.9,1260.7C2011.4,1269.3 2014.5,1278.7 2019.0,1284.9C2022.4,1289.6 2026.3,1296.0 2029.8,1295.8C2033.5,1295.6 2037.6,1288.3 2040.7,1282.5C2045.0,1274.6 2046.5,1260.1 2050.4,1251.1C2053.6,1243.7 2057.7,1232.2 2061.3,1231.7C2063.8,1231.4 2066.3,1235.6 2068.6,1239.3C2072.8,1246.0 2076.0,1263.2 2080.2,1270.9C2082.9,1276.0 2085.5,1278.2 2088.8,1282.5C2093.0,1288.0 2098.2,1301.1 2103.2,1301.2C2108.3,1301.3 2114.7,1281.9 2119.0,1282.5C2123.4,1283.1 2124.4,1301.7 2129.1,1305.5C2132.3,1308.1 2136.0,1308.5 2140.6,1307.8C2148.2,1306.7 2159.8,1297.7 2169.4,1292.5C2179.0,1287.3 2191.3,1283.5 2198.2,1276.7C2204.0,1271.0 2205.9,1261.0 2209.7,1256.5C2212.1,1253.7 2215.0,1254.2 2216.9,1250.8C2221.1,1243.4 2221.2,1221.9 2222.7,1207.6C2224.2,1193.5 2224.5,1180.2 2226.0,1165.6C2227.7,1149.5 2230.5,1131.8 2232.4,1114.9C2234.3,1098.0 2234.7,1079.2 2237.4,1064.2C2239.6,1051.9 2243.3,1031.2 2246.3,1031.2C2249.3,1031.2 2252.8,1051.9 2255.2,1064.2C2258.1,1079.2 2259.6,1098.4 2261.5,1114.9C2263.3,1130.5 2264.8,1144.2 2266.6,1160.5C2268.7,1179.5 2270.2,1204.3 2273.1,1222.0C2275.3,1235.7 2278.4,1246.0 2281.1,1258.0"/>
<path stroke="#00ff00" d="M310.4,1195.2C310.9,1194.7 311.4,1193.8 312.0,1193.8C312.5,1193.7 313.0,1194.6 313.6,1194.7C314.1,1194.9 314.7,1194.6 315.2,1194.6C315.7,1194.7 316.3,1195.4 316.8,1195.3C317.4,1195.2 317.8,1193.8 318.4,1193.8C318.9,1193.7 319.5,1194.8 320.0,1194.7C320.5,1194.7 321.0,1193.8 321.6,1193.6C322.1,1193.5 322.7,1193.6 323.2,1193.8C323.8,1194.1 324.2,1195.3 324.8,1195.4C325.3,1195.4 325.9,1194.9 326.4,1194.4C327.0,1193.8 327.4,1192.1 328.0,1191.8C328.5,1191.6 329.1,1192.2 329.6,1192.1C330.2,1192.0 330.7,1191.0 331.2,1191.2C331.9,1191.5 332.2,1195.2 332.8,1195.2C333.3,1195.3 333.8,1193.3 334.4,1192.8C334.9,1192.5 335.5,1192.3 336.0,1192.4C336.6,1192.5 337.1,1193.4 337.6,1193.4C338.2,1193.3 338.7,1192.1 339.2,1191.5C339.7,1190.9 340.3,1189.7 340.8,1189.8C341.4,1189.9 341.7,1192.6 342.4,1193.1C342.9,1193.4 343.5,1193.3 344.0,1193.2C344.6,1193.1 345.1,1192.8 345.6,1192.3C346.2,1191.8 346.6,1190.1 347.2,1189.8C347.7,1189.6 348.3,1189.9 348.8,1190.3C349.5,1190.9 349.9,1194.1 350.4,1194.1C351.0,1194.1 351.4,1188.9 352.0,1188.9C352.5,1188.8 352.9,1191.5 353.6,1192.1C354.1,1192.4 354.7,1192.7 355.2,1192.4C355.9,1192.1 356.2,1188.4 356.8,1188.3C357.3,1188.2 357.8,1189.7 358.4,1190.2C358.9,1190.5 359.5,1191.0 360.0,1190.9C360.6,1190.8 361.1,1189.9 361.6,1189.4C362.1,1188.9 362.7,1187.9 363.2,1188.0C363.9,1188.1 364.2,1192.0 364.8,1192.0C365.3,1192.1 365.7,1189.8 366.4,1189.4C366.9,1189.1 367.5,1189.3 368.0,1189.2C368.6,1189.0 369.1,1188.3 369.6,1188.2C370.1,1188.2 370.7,1188.4 371.2,1188.8C371.8,1189.3 372.3,1191.3 372.8,1191.2C373.4,1191.1 373.7,1187.4 374.4,1186.4C374.9,1185.8 375.6,1185.1 376.0,1185.2C376.8,1185.5 376.9,1191.5 377.6,1191.6C378.1,1191.7 378.6,1189.5 379.2,1188.7C379.7,1188.0 380.3,1186.8 380.8,1186.9C381.4,1186.9 381.9,1189.6 382.4,1189.6C383.0,1189.5 383.2,1184.8 384.0,1184.5C384.5,1184.3 385.2,1185.5 385.6,1185.3C386.4,1184.9 386.8,1179.6 387.2,1179.6C388.1,1179.7 387.1,1200.1 388.8,1201.5C389.3,1201.8 390.0,1201.8 390.4,1201.3C391.9,1199.7 390.7,1182.8 392.0,1182.3C392.4,1182.2 393.1,1183.3 393.6,1184.1C394.2,1185.0 394.5,1186.8 395.2,1187.5C395.7,1188.0 396.3,1188.4 396.8,1188.4C397.3,1188.3 397.8,1187.3 398.4,1187.2C398.9,1187.1 399.5,1188.0 400.0,1187.7C400.8,1187.4 401.0,1182.9 401.6,1182.8C402.1,1182.8 402.7,1184.7 403.2,1185.6C403.7,1186.4 404.3,1188.1 404.8,1188.0C405.5,1187.9 405.9,1180.2 406.4,1180.2C407.0,1180.2 407.4,1189.8 408.0,1189.8C408.5,1189.9 408.9,1185.6 409.6,1184.3C410.1,1183.4 410.7,1182.4 411.2,1182.4C411.8,1182.5 412.2,1184.7 412.8,1185.7C413.3,1186.5 413.9,1187.2 414.4,1187.9C414.9,1188.6 415.6,1190.0 416.0,1189.9C416.9,1189.7 416.9,1180.1 417.6,1180.0C418.1,1179.9 418.6,1183.1 419.2,1184.2C419.7,1185.0 420.2,1185.9 420.8,1186.1C421.3,1186.3 421.9,1186.1 422.4,1185.8C423.1,1185.3 423.4,1183.6 424.0,1182.6C424.5,1181.8 425.1,1180.2 425.6,1180.2C426.2,1180.3 426.5,1183.3 427.2,1183.5C427.7,1183.7 428.3,1182.8 428.8,1182.7C429.3,1182.7 429.9,1183.0 430.4,1183.3C431.0,1183.6 431.5,1184.5 432.0,1184.4C432.7,1184.2 432.9,1181.7 433.6,1180.9C434.1,1180.4 434.7,1179.9 435.2,1180.1C435.9,1180.3 436.1,1182.6 436.8,1183.2C437.3,1183.7 437.8,1184.0 438.4,1184.1C438.9,1184.3 439.5,1184.4 440.0,1184.2C440.7,1183.8 441.1,1181.1 441.6,1181.2C442.2,1181.2 442.7,1186.1 443.2,1186.1C443.8,1186.1 444.0,1181.4 444.8,1180.5C445.2,1180.0 445.9,1180.1 446.4,1179.8C446.9,1179.6 447.5,1179.2 448.0,1178.8C448.6,1178.3 449.2,1177.0 449.6,1177.1C450.4,1177.4 450.7,1184.7 451.2,1184.7C451.7,1184.7 451.8,1177.4 452.8,1176.5C453.2,1176.2 453.9,1176.4 454.4,1176.6C455.0,1176.8 455.5,1177.9 456.0,1177.8C456.6,1177.8 457.0,1176.3 457.6,1175.7C458.1,1175.3 458.7,1174.9 459.2,1174.9C459.7,1174.9 460.3,1175.8 460.8,1175.8C461.3,1175.7 461.9,1175.1 462.4,1174.7C463.0,1174.2 463.5,1173.5 464.0,1172.8C464.6,1172.0 465.0,1170.8 465.6,1170.3C466.1,1169.9 466.7,1169.5 467.2,1169.8C468.0,1170.1 468.3,1174.3 468.8,1174.3C469.4,1174.3 469.8,1170.6 470.4,1169.0C470.9,1167.7 471.5,1166.8 472.0,1165.4C472.6,1163.6 473.0,1159.3 473.6,1159.2C474.1,1159.2 474.7,1162.6 475.2,1162.6C475.7,1162.6 476.3,1160.4 476.8,1159.2C477.4,1157.9 477.8,1156.4 478.4,1155.2C478.9,1154.0 479.4,1152.9 480.0,1152.1C480.5,1151.3 481.0,1150.5 481.6,1150.2C482.1,1149.9 482.8,1150.3 483.2,1149.8C484.3,1148.7 484.1,1139.9 484.8,1139.8C485.3,1139.8 485.9,1143.8 486.4,1143.8C487.0,1143.8 487.4,1140.3 488.0,1138.8C488.5,1137.4 489.1,1136.2 489.6,1134.8C490.1,1133.4 490.6,1131.5 491.2,1130.4C491.7,1129.4 492.2,1128.3 492.8,1128.1C493.3,1128.0 494.0,1128.9 494.4,1128.7C495.3,1128.2 495.2,1123.2 496.0,1121.8C496.4,1121.1 497.2,1121.2 497.6,1120.5C498.5,1119.1 498.7,1115.5 499.2,1113.1C499.7,1110.8 500.3,1108.7 500.8,1106.4C501.3,1104.1 501.6,1099.6 502.4,1099.4C502.8,1099.2 503.5,1100.9 504.0,1100.8C504.6,1100.8 505.1,1099.5 505.6,1098.8C506.2,1098.0 506.7,1096.3 507.2,1096.4C507.8,1096.4 508.3,1100.4 508.8,1100.3C509.4,1100.3 509.8,1097.2 510.4,1095.8C510.9,1094.6 511.3,1092.7 512.0,1092.4C512.5,1092.2 513.1,1093.0 513.6,1092.9C514.2,1092.6 514.6,1091.1 515.2,1090.4C515.7,1089.7 516.3,1089.3 516.8,1088.7C517.3,1088.0 517.9,1087.5 518.4,1086.6C519.1,1085.3 519.4,1082.8 520.0,1081.3C520.5,1080.3 521.1,1079.8 521.6,1078.7C522.3,1077.1 522.6,1072.3 523.2,1072.2C523.7,1072.1 524.2,1075.5 524.8,1075.5C525.3,1075.6 525.9,1074.1 526.4,1073.1C527.0,1071.8 527.3,1068.6 528.0,1068.4C528.5,1068.2 529.1,1069.5 529.6,1069.4C530.2,1069.3 530.7,1067.8 531.2,1066.7C531.8,1065.2 532.0,1061.4 532.8,1061.1C533.2,1060.9 533.9,1062.0 534.4,1061.8C535.1,1061.6 535.4,1059.3 536.0,1058.5C536.5,1057.8 537.1,1057.6 537.6,1056.8C538.3,1055.8 538.6,1052.5 539.2,1052.4C539.7,1052.4 540.3,1055.6 540.8,1055.6C541.4,1055.5 541.8,1052.0 542.4,1050.7C542.9,1049.7 543.5,1049.0 544.0,1048.1C544.6,1047.2 545.0,1046.0 545.6,1045.1C546.1,1044.2 546.6,1043.5 547.2,1042.8C547.7,1042.3 548.3,1041.9 548.8,1041.4C549.4,1040.8 549.9,1040.2 550.4,1039.5C551.0,1038.8 551.5,1037.8 552.0,1037.0C552.5,1036.2 553.0,1035.4 553.6,1034.7C554.1,1034.1 554.7,1033.7 555.2,1033.0C555.8,1032.1 556.2,1030.8 556.8,1030.0C557.3,1029.2 557.6,1029.0 558.4,1028.0C560.7,1024.9 567.1,1015.8 572.0,1008.9C577.8,1000.8 584.4,990.8 590.8,982.5C596.9,974.5 603.2,964.8 609.7,959.9C614.6,956.2 620.2,954.2 624.7,953.3C628.1,952.7 630.6,952.8 634.2,953.7C639.5,955.0 646.8,958.5 653.0,962.7C660.6,967.8 668.3,980.0 675.6,983.5C680.7,986.0 684.8,984.5 690.7,985.9C699.5,987.9 711.8,991.4 722.8,995.7C735.0,1000.4 747.6,1008.5 760.5,1013.6C773.3,1018.7 788.4,1023.9 800.0,1026.1C808.8,1027.8 815.4,1025.3 823.6,1027.7C834.0,1030.8 846.4,1043.9 856.5,1046.1C864.1,1047.7 871.3,1045.5 877.8,1044.2C883.4,1043.1 888.7,1037.9 893.1,1039.5C898.4,1041.4 901.4,1053.9 906.0,1059.0C909.7,1063.1 913.4,1063.9 917.8,1068.5C925.7,1076.8 934.8,1096.9 946.1,1107.4C957.0,1117.5 969.7,1124.8 983.8,1130.9C999.3,1137.6 1018.8,1140.2 1035.6,1145.0C1051.7,1149.6 1067.1,1154.5 1082.8,1159.2C1098.5,1163.9 1113.2,1169.7 1129.9,1173.3C1148.3,1177.2 1174.1,1180.1 1188.8,1180.9C1197.6,1181.4 1200.5,1179.8 1210.0,1180.4C1229.6,1181.6 1270.6,1191.9 1300.0,1193.5C1328.0,1195.0 1361.7,1190.2 1382.5,1190.4C1395.2,1190.5 1404.6,1194.8 1413.1,1192.0C1420.7,1189.4 1425.8,1176.0 1432.0,1176.2C1438.4,1176.4 1441.7,1190.4 1450.8,1194.4C1464.7,1200.5 1499.7,1196.5 1512.1,1197.9C1517.6,1198.5 1518.9,1200.0 1523.8,1199.8C1532.4,1199.4 1550.4,1195.4 1559.2,1190.9C1565.4,1187.7 1569.1,1184.7 1573.3,1179.1C1579.1,1171.3 1583.3,1156.2 1587.5,1146.1C1591.0,1137.6 1593.6,1129.9 1596.9,1122.5C1599.9,1115.8 1602.6,1106.2 1606.3,1103.7C1608.5,1102.3 1611.3,1102.1 1613.4,1103.2C1616.3,1104.6 1618.0,1112.5 1620.5,1114.3C1622.0,1115.4 1623.9,1114.1 1625.2,1115.5C1628.2,1118.7 1627.2,1133.9 1629.9,1141.4C1632.2,1147.7 1635.2,1156.0 1639.3,1157.9C1642.6,1159.4 1648.1,1157.4 1651.1,1155.5C1653.8,1153.8 1654.8,1148.3 1657.0,1148.0C1659.1,1147.7 1661.3,1150.7 1664.0,1153.2C1668.8,1157.7 1675.9,1174.0 1681.7,1174.4C1686.5,1174.7 1691.9,1161.3 1695.9,1161.4C1699.1,1161.5 1701.5,1170.4 1704.1,1170.1C1707.1,1169.8 1710.0,1155.7 1712.3,1156.0C1715.3,1156.4 1716.1,1181.7 1719.4,1182.6C1721.4,1183.1 1723.2,1176.3 1726.5,1175.5C1731.5,1174.3 1741.8,1183.5 1747.7,1182.6C1752.6,1181.8 1755.9,1177.4 1760.0,1173.6C1764.9,1169.1 1769.8,1163.5 1774.5,1156.7C1780.4,1148.1 1786.7,1136.3 1791.5,1125.2C1796.5,1113.7 1800.8,1102.0 1803.6,1088.9C1806.8,1074.1 1807.3,1055.9 1808.4,1040.5C1809.4,1026.4 1809.6,1013.8 1810.3,1000.0C1811.0,985.4 1811.9,971.2 1812.8,955.1C1813.8,936.4 1815.1,915.7 1816.1,894.6C1817.2,871.5 1818.2,846.2 1819.3,822.0C1820.4,797.8 1821.6,773.6 1822.9,749.4C1824.2,725.1 1825.8,695.0 1827.3,676.5C1828.2,665.1 1829.0,658.0 1830.0,648.8C1831.0,639.6 1832.1,630.4 1833.2,621.2C1834.4,612.0 1835.7,602.7 1836.9,593.5C1838.1,584.3 1839.2,575.1 1840.6,565.9C1842.0,556.7 1843.7,547.4 1845.2,538.2C1846.7,529.0 1848.3,519.8 1849.8,510.6C1851.3,501.4 1852.9,492.1 1854.4,482.9C1855.9,473.7 1857.2,464.5 1858.6,455.3C1860.0,446.1 1861.3,435.8 1862.7,427.6C1863.8,421.1 1864.9,416.7 1866.0,410.0C1867.4,401.4 1868.9,389.7 1870.4,380.1C1871.8,371.3 1873.1,363.1 1874.8,354.7C1876.5,346.2 1878.7,337.9 1880.5,329.4C1882.3,321.0 1883.8,312.0 1885.6,304.0C1887.2,296.9 1888.8,289.7 1890.7,283.8C1892.3,279.0 1894.1,274.9 1895.8,271.1C1897.3,267.8 1898.6,264.7 1900.2,262.2C1901.5,260.2 1903.0,257.3 1904.6,257.2C1906.5,257.1 1909.2,261.0 1911.0,263.5C1913.0,266.3 1914.5,269.7 1916.0,273.6C1917.9,278.6 1919.7,284.9 1921.1,291.4C1922.8,299.0 1923.8,308.2 1924.9,316.7C1925.9,325.1 1926.5,333.6 1927.4,342.1C1928.2,350.5 1929.2,358.4 1930.0,367.4C1930.9,377.6 1931.8,388.8 1932.5,400.0C1933.2,411.9 1933.5,424.6 1934.0,436.9C1934.5,449.2 1934.9,461.4 1935.4,473.7C1935.9,486.0 1936.4,498.3 1936.9,510.6C1937.4,522.9 1938.1,535.2 1938.6,547.5C1939.1,559.8 1939.5,572.0 1940.0,584.3C1940.5,596.6 1941.1,608.9 1941.7,621.2C1942.3,633.5 1942.8,645.3 1943.5,658.1C1944.3,671.9 1945.5,684.8 1946.4,701.0C1947.6,722.0 1948.8,749.4 1950.0,773.6C1951.2,797.8 1952.4,822.0 1953.6,846.2C1954.8,870.4 1955.8,897.1 1957.2,918.8C1958.3,936.6 1959.8,952.6 1960.9,967.2C1961.8,979.2 1962.2,991.9 1963.3,1000.0C1964.0,1004.8 1963.5,1008.5 1965.7,1011.5C1968.1,1014.8 1974.4,1014.9 1977.8,1018.7C1982.2,1023.6 1984.6,1031.9 1987.5,1040.5C1991.3,1051.9 1993.5,1068.2 1997.2,1081.6C2000.8,1094.8 2005.5,1106.7 2009.3,1120.4C2013.6,1135.6 2017.0,1157.0 2021.4,1168.8C2024.1,1176.1 2026.9,1185.8 2029.8,1185.7C2033.3,1185.6 2037.7,1171.6 2040.7,1161.5C2045.3,1146.1 2046.1,1118.3 2050.4,1101.0C2053.8,1087.6 2058.9,1066.4 2062.5,1066.0C2064.3,1065.8 2066.0,1070.4 2067.6,1074.3C2070.6,1081.9 2072.7,1098.0 2075.2,1109.8C2077.7,1121.6 2079.8,1133.7 2082.8,1145.3C2085.7,1156.6 2089.6,1169.0 2093.0,1178.3C2095.5,1185.3 2097.0,1193.8 2100.6,1196.5C2102.9,1198.3 2106.5,1198.9 2109.0,1197.5C2113.2,1195.2 2115.7,1175.8 2119.0,1175.9C2122.7,1176.0 2124.8,1197.6 2130.0,1203.0C2133.7,1206.8 2139.0,1209.7 2143.5,1209.0C2149.2,1208.1 2155.6,1198.9 2160.8,1193.2C2165.8,1187.7 2169.4,1181.5 2174.1,1175.7C2178.9,1169.7 2184.0,1161.8 2189.3,1158.0C2193.4,1155.1 2198.4,1156.0 2202.0,1152.9C2206.4,1149.1 2209.5,1142.3 2212.1,1135.2C2215.4,1126.1 2216.7,1115.9 2218.4,1102.2C2221.2,1079.9 2221.7,1041.9 2223.5,1013.5C2225.1,987.2 2226.8,964.6 2228.6,937.4C2230.6,906.0 2233.0,864.8 2234.9,836.0C2236.4,814.5 2236.9,797.6 2239.0,779.8C2240.9,763.4 2244.3,733.0 2246.7,733.0C2249.1,733.0 2251.8,762.0 2253.5,779.8C2255.8,803.2 2255.9,832.7 2257.7,861.4C2259.7,893.4 2262.8,929.0 2265.3,962.8C2267.8,996.6 2270.0,1032.1 2272.9,1064.2C2275.6,1093.4 2278.8,1119.9 2281.8,1147.8"/>
<path stroke="#ff80ff" d="M310.4,1285.3C310.9,1285.6 311.5,1286.0 312.0,1286.0C312.5,1286.1 313.1,1286.0 313.6,1285.7C314.2,1285.3 314.6,1283.2 315.2,1283.2C315.7,1283.2 316.2,1284.7 316.8,1285.1C317.3,1285.5 317.9,1285.8 318.4,1285.8C318.9,1285.7 319.5,1285.4 320.0,1285.1C320.5,1284.8 321.0,1284.2 321.6,1284.0C322.1,1283.9 322.7,1284.0 323.2,1284.0C323.7,1284.0 324.3,1284.1 324.8,1284.0C325.3,1283.9 325.9,1283.5 326.4,1283.4C326.9,1283.3 327.5,1283.0 328.0,1283.3C328.6,1283.5 329.0,1285.5 329.6,1285.5C330.1,1285.6 330.6,1284.0 331.2,1283.9C331.7,1283.9 332.3,1284.9 332.8,1284.8C333.4,1284.8 333.8,1283.5 334.4,1283.4C334.9,1283.4 335.5,1284.1 336.0,1284.1C336.6,1284.0 337.0,1283.0 337.6,1282.8C338.1,1282.6 338.7,1282.9 339.2,1282.8C339.7,1282.7 340.3,1282.0 340.8,1282.1C341.4,1282.2 341.9,1283.1 342.4,1283.6C342.9,1284.1 343.5,1285.2 344.0,1285.2C344.6,1285.1 345.0,1282.8 345.6,1282.6C346.1,1282.5 346.7,1283.6 347.2,1283.4C347.9,1283.2 348.2,1280.4 348.8,1280.3C349.3,1280.2 349.8,1281.6 350.4,1281.8C350.9,1282.0 351.5,1281.7 352.0,1281.9C352.6,1282.1 353.1,1283.0 353.6,1282.9C354.2,1282.7 354.6,1280.3 355.2,1280.1C355.7,1279.9 356.3,1280.6 356.8,1280.9C357.3,1281.2 357.8,1281.7 358.4,1281.8C358.9,1281.9 359.5,1281.3 360.0,1281.5C360.6,1281.7 361.1,1283.2 361.6,1283.3C362.1,1283.3 362.6,1282.2 363.2,1281.8C363.7,1281.4 364.3,1281.1 364.8,1281.0C365.3,1280.9 365.9,1281.2 366.4,1281.3C366.9,1281.4 367.5,1281.4 368.0,1281.5C368.5,1281.7 369.1,1282.5 369.6,1282.4C370.2,1282.3 370.6,1280.8 371.2,1280.3C371.7,1279.9 372.3,1279.5 372.8,1279.6C373.4,1279.7 373.9,1281.5 374.4,1281.5C374.9,1281.5 375.4,1279.6 376.0,1279.5C376.5,1279.5 377.0,1280.7 377.6,1280.8C378.1,1280.9 378.7,1280.1 379.2,1280.2C379.8,1280.3 380.2,1281.6 380.8,1281.7C381.3,1281.8 381.9,1281.0 382.4,1280.8C382.9,1280.5 383.5,1280.6 384.0,1280.3C384.6,1280.0 385.1,1279.3 385.6,1278.6C386.2,1277.9 386.8,1276.2 387.2,1276.3C388.1,1276.5 387.6,1286.2 388.8,1287.2C389.2,1287.5 390.0,1287.5 390.4,1287.1C391.5,1286.1 391.1,1277.8 392.0,1277.6C392.4,1277.5 393.0,1278.9 393.6,1279.4C394.1,1279.9 394.7,1280.5 395.2,1280.5C395.7,1280.5 396.3,1279.9 396.8,1279.5C397.4,1279.1 397.8,1278.0 398.4,1278.0C398.9,1277.9 399.4,1278.8 400.0,1279.0C400.5,1279.2 401.1,1279.3 401.6,1279.3C402.1,1279.3 402.7,1279.1 403.2,1279.2C403.8,1279.3 404.3,1280.2 404.8,1280.2C405.4,1280.1 405.8,1278.5 406.4,1278.4C406.9,1278.4 407.5,1279.5 408.0,1279.5C408.6,1279.4 409.0,1278.1 409.6,1277.9C410.1,1277.8 410.7,1278.2 411.2,1278.2C411.7,1278.1 412.3,1277.7 412.8,1277.8C413.4,1278.0 413.9,1279.5 414.4,1279.4C415.0,1279.3 415.4,1276.2 416.0,1276.1C416.5,1276.1 417.1,1277.3 417.6,1277.9C418.1,1278.4 418.7,1279.4 419.2,1279.3C419.8,1279.2 420.3,1275.9 420.8,1275.9C421.4,1275.9 421.8,1280.0 422.4,1280.0C422.9,1280.1 423.3,1277.5 424.0,1277.1C424.5,1276.8 425.1,1277.0 425.6,1277.2C426.2,1277.3 426.7,1278.2 427.2,1278.2C427.7,1278.3 428.3,1277.6 428.8,1277.5C429.3,1277.3 429.9,1277.0 430.4,1277.2C431.0,1277.5 431.4,1279.2 432.0,1279.7C432.5,1280.1 433.1,1280.5 433.6,1280.3C434.3,1280.0 434.6,1277.7 435.2,1277.0C435.7,1276.4 436.3,1275.7 436.8,1275.7C437.4,1275.8 437.8,1278.0 438.4,1278.1C438.9,1278.1 439.5,1276.9 440.0,1276.3C440.5,1275.7 441.0,1274.7 441.6,1274.6C442.1,1274.5 442.7,1275.0 443.2,1275.4C443.8,1275.8 444.2,1277.2 444.8,1277.3C445.3,1277.3 445.8,1275.9 446.4,1275.8C446.9,1275.7 447.5,1275.9 448.0,1276.2C448.7,1276.7 449.0,1279.0 449.6,1279.1C450.1,1279.2 450.7,1278.1 451.2,1277.5C451.8,1276.7 452.2,1274.7 452.8,1274.6C453.3,1274.4 453.9,1275.7 454.4,1275.5C455.1,1275.3 455.2,1272.0 456.0,1271.5C456.5,1271.1 457.1,1271.3 457.6,1271.4C458.2,1271.7 458.7,1273.0 459.2,1273.0C459.7,1272.9 460.2,1271.5 460.8,1271.2C461.3,1271.0 462.0,1271.4 462.4,1271.0C463.2,1270.3 463.4,1266.1 464.0,1266.1C464.5,1266.1 464.9,1269.4 465.6,1269.6C466.1,1269.7 466.7,1269.0 467.2,1268.7C467.7,1268.4 468.3,1268.2 468.8,1267.8C469.4,1267.3 469.9,1266.0 470.4,1266.0C471.0,1266.1 471.5,1268.6 472.0,1268.5C472.6,1268.5 473.0,1265.9 473.6,1264.9C474.1,1264.1 474.6,1263.4 475.2,1262.8C475.7,1262.3 476.2,1261.6 476.8,1261.5C477.3,1261.4 478.0,1262.4 478.4,1262.1C479.3,1261.7 479.1,1255.7 480.0,1255.1C480.4,1254.8 481.2,1255.6 481.6,1255.4C482.4,1254.9 482.5,1251.5 483.2,1250.3C483.7,1249.5 484.3,1249.3 484.8,1248.5C485.4,1247.5 485.8,1245.7 486.4,1244.5C486.9,1243.5 487.5,1242.8 488.0,1241.6C488.6,1240.2 489.0,1238.1 489.6,1236.6C490.1,1235.3 490.5,1233.9 491.2,1233.2C491.7,1232.7 492.3,1232.9 492.8,1232.4C493.5,1231.7 493.9,1230.3 494.4,1229.2C495.0,1228.0 495.3,1226.0 496.0,1225.4C496.5,1225.0 497.2,1225.5 497.6,1225.1C498.5,1224.2 498.4,1220.2 499.2,1219.1C499.6,1218.4 500.4,1218.6 500.8,1217.9C501.7,1216.4 501.5,1211.0 502.4,1209.3C502.8,1208.4 503.5,1208.1 504.0,1207.6C504.5,1207.0 505.1,1206.7 505.6,1206.1C506.2,1205.5 506.7,1204.7 507.2,1203.8C507.8,1202.6 508.0,1200.1 508.8,1199.4C509.3,1199.0 509.9,1199.3 510.4,1198.9C511.1,1198.3 511.4,1196.5 512.0,1195.5C512.5,1194.7 513.1,1194.3 513.6,1193.3C514.3,1191.9 514.5,1188.0 515.2,1187.8C515.7,1187.7 516.3,1189.6 516.8,1189.5C517.4,1189.4 517.8,1187.4 518.4,1186.4C518.9,1185.5 519.5,1184.7 520.0,1183.8C520.5,1182.9 521.0,1181.7 521.6,1180.9C522.1,1180.1 522.7,1179.6 523.2,1179.1C523.7,1178.5 524.2,1177.4 524.8,1177.4C525.3,1177.3 526.0,1178.7 526.4,1178.5C527.4,1178.1 527.0,1170.2 528.0,1169.4C528.4,1169.1 529.1,1170.0 529.6,1169.8C530.3,1169.4 530.7,1167.5 531.2,1166.4C531.7,1165.2 532.2,1163.9 532.8,1162.9C533.3,1162.1 533.9,1161.8 534.4,1160.8C535.1,1159.3 535.2,1154.6 536.0,1154.3C536.4,1154.1 537.1,1155.4 537.6,1155.3C538.3,1155.0 538.5,1151.9 539.2,1151.0C539.7,1150.4 540.3,1150.6 540.8,1150.0C541.5,1149.2 541.8,1147.3 542.4,1146.2C542.9,1145.2 543.5,1144.5 544.0,1143.6C544.6,1142.6 545.1,1141.5 545.6,1140.4C546.1,1139.4 546.7,1138.4 547.2,1137.5C547.7,1136.6 548.2,1135.6 548.8,1134.8C549.3,1134.0 549.9,1133.5 550.4,1132.7C551.0,1131.8 551.4,1130.4 552.0,1129.5C552.5,1128.6 553.1,1127.8 553.6,1127.1C554.1,1126.3 554.7,1125.5 555.2,1124.8C555.7,1124.0 556.3,1123.3 556.8,1122.6C557.3,1121.8 557.6,1121.4 558.4,1120.3C560.7,1117.0 567.2,1108.3 572.0,1101.3C577.8,1092.9 584.1,1081.2 590.8,1073.0C596.7,1065.8 603.9,1058.2 609.7,1054.2C613.7,1051.5 617.0,1049.9 621.0,1049.1C625.1,1048.3 629.4,1048.1 634.2,1049.4C640.9,1051.2 649.7,1056.8 656.8,1061.7C664.1,1066.8 669.1,1074.9 677.5,1079.6C687.4,1085.1 700.8,1085.8 713.3,1090.9C728.2,1096.9 745.5,1106.8 760.5,1114.5C774.3,1121.6 788.3,1130.9 800.0,1135.6C808.7,1139.1 814.9,1138.5 823.6,1142.2C836.0,1147.4 854.4,1164.9 866.0,1166.7C873.3,1167.9 879.4,1164.7 884.8,1162.7C889.3,1161.0 893.3,1155.3 896.6,1156.4C900.8,1157.8 901.7,1169.6 906.0,1175.7C910.8,1182.4 919.0,1190.6 924.9,1194.5C929.0,1197.2 933.3,1196.5 936.7,1199.2C940.6,1202.4 941.1,1208.9 946.1,1213.4C954.0,1220.5 969.9,1227.5 983.8,1232.7C999.4,1238.5 1018.7,1241.7 1035.6,1245.2C1051.6,1248.5 1067.1,1250.6 1082.8,1253.4C1098.5,1256.1 1112.7,1259.6 1129.9,1261.7C1150.5,1264.2 1185.8,1260.4 1198.2,1266.4C1204.1,1269.3 1205.8,1278.3 1208.8,1278.2C1211.1,1278.2 1211.5,1272.8 1214.7,1271.1C1220.3,1268.0 1231.9,1268.1 1243.0,1267.6C1258.7,1266.9 1280.0,1269.4 1300.0,1269.3C1322.3,1269.2 1348.7,1267.0 1370.7,1266.3C1390.0,1265.7 1409.8,1264.5 1424.9,1265.1C1435.9,1265.6 1441.8,1267.4 1453.2,1268.1C1470.6,1269.2 1501.9,1271.6 1519.1,1269.1C1530.7,1267.5 1538.5,1264.0 1547.4,1260.4C1555.8,1257.0 1565.1,1254.4 1571.0,1248.6C1576.8,1242.9 1579.1,1234.2 1582.8,1226.2C1586.9,1217.4 1590.3,1205.3 1594.5,1197.9C1597.5,1192.5 1600.6,1186.7 1604.0,1185.0C1606.2,1183.9 1608.6,1183.9 1611.0,1185.0C1614.8,1186.8 1619.7,1193.7 1622.8,1199.1C1626.1,1204.9 1627.2,1213.4 1629.9,1219.1C1632.1,1223.7 1633.7,1228.6 1637.0,1230.9C1640.1,1233.1 1645.4,1234.0 1648.7,1233.3C1651.5,1232.7 1653.0,1228.5 1655.8,1228.1C1659.1,1227.6 1663.7,1229.8 1667.6,1232.1C1672.4,1235.0 1676.6,1244.5 1681.7,1245.5C1686.2,1246.4 1691.7,1240.3 1695.9,1240.3C1699.4,1240.3 1702.5,1244.7 1705.3,1243.9C1708.5,1243.0 1711.4,1232.9 1713.5,1233.3C1715.7,1233.7 1715.5,1245.9 1718.2,1247.4C1720.3,1248.5 1723.1,1245.2 1726.5,1245.1C1731.9,1245.0 1741.7,1250.7 1747.7,1250.2C1752.4,1249.8 1755.8,1247.1 1760.0,1245.0C1764.7,1242.6 1769.5,1240.1 1774.5,1236.5C1780.7,1232.0 1788.8,1226.7 1793.9,1219.6C1799.6,1211.7 1803.1,1202.0 1806.0,1190.6C1809.9,1175.7 1810.1,1156.5 1812.0,1137.3C1814.2,1115.0 1816.7,1088.2 1818.1,1064.7C1819.4,1042.5 1819.4,1022.8 1820.5,1000.0C1821.7,974.5 1823.1,943.8 1825.3,918.8C1827.2,897.1 1829.6,877.3 1832.6,858.3C1835.3,841.2 1838.9,825.3 1842.3,809.9C1845.4,795.6 1848.5,783.0 1852.0,768.8C1855.8,753.3 1859.3,735.2 1864.1,720.4C1868.3,707.3 1874.2,696.5 1878.6,684.1C1883.1,671.5 1885.3,655.4 1890.7,645.3C1894.8,637.7 1900.2,627.9 1905.2,627.2C1909.2,626.7 1914.4,632.3 1917.4,636.0C1920.3,639.6 1921.4,644.1 1922.9,648.8C1924.6,654.3 1925.6,660.5 1926.6,667.3C1927.8,675.6 1928.5,685.9 1929.4,694.9C1930.3,703.5 1931.4,710.6 1932.1,720.0C1933.1,732.1 1933.3,745.7 1934.2,761.5C1935.4,782.3 1937.5,809.0 1939.1,834.1C1940.8,861.2 1942.6,892.9 1943.9,918.8C1945.0,940.8 1944.9,958.8 1946.4,980.0C1948.0,1003.2 1951.2,1028.4 1953.6,1052.6C1956.0,1076.8 1957.0,1113.0 1960.9,1125.2C1962.3,1129.6 1963.5,1133.5 1965.7,1133.7C1968.7,1134.0 1974.2,1120.0 1977.8,1120.4C1981.5,1120.8 1984.3,1130.2 1987.5,1137.3C1992.4,1148.3 1997.1,1166.6 2002.0,1180.9C2006.8,1194.8 2010.5,1211.7 2016.5,1222.0C2020.8,1229.4 2027.0,1239.4 2031.1,1239.0C2034.9,1238.6 2037.9,1229.2 2040.7,1222.0C2044.9,1211.1 2046.5,1191.1 2050.4,1178.5C2053.5,1168.3 2057.0,1152.9 2061.0,1151.5C2063.1,1150.8 2065.7,1153.0 2067.6,1155.4C2071.0,1159.6 2072.9,1170.7 2075.2,1178.3C2077.5,1185.6 2078.6,1192.4 2081.5,1200.0C2084.8,1208.8 2089.6,1225.4 2094.6,1227.7C2097.3,1228.9 2100.7,1224.8 2103.2,1225.4C2105.5,1225.9 2106.9,1230.8 2109.0,1230.6C2112.0,1230.3 2115.4,1217.5 2119.0,1217.7C2123.9,1218.0 2129.0,1240.8 2134.9,1243.6C2138.5,1245.3 2142.0,1244.0 2146.4,1242.1C2154.2,1238.8 2166.0,1225.9 2175.2,1219.1C2183.2,1213.2 2193.4,1209.0 2198.2,1203.3C2201.6,1199.2 2201.6,1191.1 2204.0,1190.3C2205.6,1189.8 2207.8,1192.0 2209.6,1193.5C2211.7,1195.2 2214.0,1200.9 2215.5,1200.4C2218.4,1199.4 2217.1,1173.7 2218.4,1164.4C2219.2,1158.5 2220.4,1156.5 2221.2,1150.0C2222.9,1136.8 2223.0,1109.9 2224.8,1089.5C2226.7,1068.6 2230.1,1045.3 2232.4,1026.2C2234.3,1010.5 2235.9,997.7 2237.4,983.1C2238.9,968.1 2240.1,937.4 2241.2,937.4C2242.2,937.4 2243.0,970.4 2243.8,970.4C2244.9,970.4 2245.7,909.6 2247.1,909.6C2248.3,909.6 2248.9,954.7 2251.4,955.2C2252.5,955.4 2254.3,947.4 2255.2,947.6C2257.2,948.0 2255.8,971.9 2256.5,985.6C2257.4,1001.9 2258.8,1021.3 2260.3,1038.8C2261.8,1055.9 2263.2,1075.5 2265.3,1089.5C2266.8,1099.5 2269.1,1105.7 2270.4,1114.9C2271.9,1125.6 2271.9,1141.4 2273.1,1150.0C2273.8,1155.1 2274.6,1156.7 2275.5,1162.0C2277.2,1172.3 2279.6,1192.4 2281.7,1207.6"/>
</g>
<g stroke="#cdcdcd" stroke-width="2.8" fill="none">
<line x1="1607.4" y1="996.0" x2="1609.4" y2="1596.0"/>
<line x1="1623.3" y1="1105.0" x2="1623.3" y2="1534.0"/>
<line x1="1661.3" y1="1132.0" x2="1661.3" y2="1560.0"/>
<line x1="1713.5" y1="1135.0" x2="1713.5" y2="1562.0"/>
</g>
<g stroke="#000" stroke-width="3.2" fill="none">
<line x1="615.4" y1="850.0" x2="615.4" y2="880.5"/>
<line x1="837.8" y1="843.0" x2="884.3" y2="932.5"/>
<line x1="1003.0" y1="895.2" x2="927.2" y2="960.0"/>
<line x1="1509.9" y1="933.8" x2="1594.0" y2="995.7"/>
<line x1="1596.4" y1="796.2" x2="1626.4" y2="1098.3"/>
<line x1="1652.4" y1="878.4" x2="1663.8" y2="1124.5"/>
<line x1="1741.8" y1="958.0" x2="1714.9" y2="1131.5"/>
<line x1="1907.4" y1="122.0" x2="1907.4" y2="187.7"/>
<line x1="2018.5" y1="705.4" x2="1977.8" y2="805.0"/>
<line x1="2096.0" y1="825.0" x2="2070.0" y2="876.3"/>
<line x1="2245.7" y1="421.7" x2="2245.7" y2="475.6"/>
</g>
<g stroke="#000" fill="none">
<line x1="309.5" y1="190" x2="309.5" y2="1676" stroke-width="7"/>
<line x1="280" y1="1645.5" x2="2289.5" y2="1645.5" stroke-width="7"/>
<line x1="280" y1="1645.5" x2="309.5" y2="1645.5" stroke-width="6"/>
<line x1="295" y1="1500.2" x2="309.5" y2="1500.2" stroke-width="6"/>
<line x1="280" y1="1355.0" x2="309.5" y2="1355.0" stroke-width="6"/>
<line x1="295" y1="1209.8" x2="309.5" y2="1209.8" stroke-width="6"/>
<line x1="280" y1="1064.5" x2="309.5" y2="1064.5" stroke-width="6"/>
<line x1="295" y1="919.2" x2="309.5" y2="919.2" stroke-width="6"/>
<line x1="280" y1="774.0" x2="309.5" y2="774.0" stroke-width="6"/>
<line x1="295" y1="628.7" x2="309.5" y2="628.7" stroke-width="6"/>
<line x1="280" y1="483.5" x2="309.5" y2="483.5" stroke-width="6"/>
<line x1="295" y1="338.2" x2="309.5" y2="338.2" stroke-width="6"/>
<line x1="280" y1="193.0" x2="309.5" y2="193.0" stroke-width="6"/>
<line x1="309.5" y1="1645.5" x2="309.5" y2="1676" stroke-width="6"/>
<line x1="446.4" y1="1645.5" x2="446.4" y2="1661" stroke-width="6"/>
<line x1="583.3" y1="1645.5" x2="583.3" y2="1676" stroke-width="6"/>
<line x1="720.2" y1="1645.5" x2="720.2" y2="1661" stroke-width="6"/>
<line x1="857.1" y1="1645.5" x2="857.1" y2="1676" stroke-width="6"/>
<line x1="994.0" y1="1645.5" x2="994.0" y2="1661" stroke-width="6"/>
<line x1="1130.9" y1="1645.5" x2="1130.9" y2="1676" stroke-width="6"/>
<line x1="1267.8" y1="1645.5" x2="1267.8" y2="1661" stroke-width="6"/>
<line x1="1404.7" y1="1645.5" x2="1404.7" y2="1676" stroke-width="6"/>
<line x1="1541.6" y1="1645.5" x2="1541.6" y2="1661" stroke-width="6"/>
<line x1="1678.5" y1="1645.5" x2="1678.5" y2="1676" stroke-width="6"/>
<line x1="1815.4" y1="1645.5" x2="1815.4" y2="1661" stroke-width="6"/>
<line x1="1952.3" y1="1645.5" x2="1952.3" y2="1676" stroke-width="6"/>
<line x1="2089.2" y1="1645.5" x2="2089.2" y2="1661" stroke-width="6"/>
<line x1="2226.1" y1="1645.5" x2="2226.1" y2="1676" stroke-width="6"/>
</g>
<text x="179.48" y="1662.30" font-size="57.30" textLength="80.85" lengthAdjust="spacingAndGlyphs">0.0</text>
<text x="178.90" y="1371.80" font-size="57.30" textLength="80.85" lengthAdjust="spacingAndGlyphs">0.4</text>
<text x="179.48" y="1081.30" font-size="57.30" textLength="80.85" lengthAdjust="spacingAndGlyphs">0.8</text>
<text x="180.07" y="790.80" font-size="57.30" textLength="80.85" lengthAdjust="spacingAndGlyphs">1.2</text>
<text x="179.48" y="500.30" font-size="57.30" textLength="80.85" lengthAdjust="spacingAndGlyphs">1.6</text>
<text x="179.48" y="209.80" font-size="57.30" textLength="80.85" lengthAdjust="spacingAndGlyphs">2.0</text>
<text x="245.41" y="1740.30" font-size="57.30" textLength="129.00" lengthAdjust="spacingAndGlyphs">4000</text>
<text x="518.63" y="1740.30" font-size="57.30" textLength="129.00" lengthAdjust="spacingAndGlyphs">3500</text>
<text x="792.43" y="1740.30" font-size="57.30" textLength="129.00" lengthAdjust="spacingAndGlyphs">3000</text>
<text x="1065.94" y="1740.30" font-size="57.30" textLength="129.00" lengthAdjust="spacingAndGlyphs">2500</text>
<text x="1339.74" y="1740.30" font-size="57.30" textLength="129.00" lengthAdjust="spacingAndGlyphs">2000</text>
<text x="1612.67" y="1740.30" font-size="57.30" textLength="129.00" lengthAdjust="spacingAndGlyphs">1500</text>
<text x="1886.47" y="1740.30" font-size="57.30" textLength="129.00" lengthAdjust="spacingAndGlyphs">1000</text>
<text x="2177.38" y="1740.30" font-size="57.30" textLength="96.76" lengthAdjust="spacingAndGlyphs">500</text>
<text x="546.39" y="818.90" font-size="57.00" textLength="128.39" lengthAdjust="spacingAndGlyphs">3420</text>
<text x="784.08" y="826.50" font-size="57.00" textLength="129.93" lengthAdjust="spacingAndGlyphs">2940</text>
<text x="937.09" y="873.00" font-size="57.00" textLength="129.41" lengthAdjust="spacingAndGlyphs">2850</text>
<text x="1431.98" y="924.50" font-size="57.00" textLength="128.40" lengthAdjust="spacingAndGlyphs">1630</text>
<text x="1517.37" y="773.00" font-size="57.00" textLength="128.71" lengthAdjust="spacingAndGlyphs">1603</text>
<text x="1602.41" y="854.20" font-size="57.00" textLength="127.76" lengthAdjust="spacingAndGlyphs">1530</text>
<text x="1670.39" y="948.60" font-size="57.00" textLength="128.08" lengthAdjust="spacingAndGlyphs">1436</text>
<text x="1844.37" y="105.40" font-size="57.00" textLength="128.80" lengthAdjust="spacingAndGlyphs">1077</text>
<text x="1996.69" y="682.50" font-size="57.00" textLength="97.16" lengthAdjust="spacingAndGlyphs">960</text>
<text x="2069.75" y="806.50" font-size="57.00" textLength="98.31" lengthAdjust="spacingAndGlyphs">798</text>
<text x="2202.05" y="406.00" font-size="57.00" textLength="95.97" lengthAdjust="spacingAndGlyphs">460</text>
<text x="920.15" y="96.90" font-size="60.60" textLength="209.20" lengthAdjust="spacingAndGlyphs">SBA&#8211;15</text>
<text x="920.12" y="170.60" font-size="60.60" textLength="294.72" lengthAdjust="spacingAndGlyphs">SBA15&#8211;NH</text>
<text x="920.11" y="259.70" font-size="60.60" textLength="495.38" lengthAdjust="spacingAndGlyphs">SBA15&#8211;RuSaldiam</text>
<text x="920.12" y="334.00" font-size="60.60" textLength="432.45" lengthAdjust="spacingAndGlyphs">SBA15&#8211;RuSalen</text>
<text x="920.11" y="407.60" font-size="60.60" textLength="449.34" lengthAdjust="spacingAndGlyphs">SBA15&#8211;RuSalfen</text>
<text x="920.12" y="481.60" font-size="60.60" textLength="477.86" lengthAdjust="spacingAndGlyphs">SBA15&#8211;RuSalpnol</text>
<text x="920.12" y="555.60" font-size="60.60" textLength="509.07" lengthAdjust="spacingAndGlyphs">SBA15&#8211;RuSalampy</text>
<text x="920.11" y="629.70" font-size="60.60" textLength="514.22" lengthAdjust="spacingAndGlyphs">SBA15&#8211;RuSaldmen</text>
<text x="920.12" y="703.80" font-size="60.60" textLength="492.47" lengthAdjust="spacingAndGlyphs">SBA15&#8211;RuSalaepy</text>
<text x="1212.80" y="188.60" font-size="41.50" textLength="23.34" lengthAdjust="spacingAndGlyphs">2</text>
<text x="977.37" y="1864.80" font-size="75.50" textLength="571.15" lengthAdjust="spacingAndGlyphs">Wavenumber (cm</text>
<text x="1551.40" y="1832.90" font-size="50.50" textLength="35.57" lengthAdjust="spacingAndGlyphs">-1</text>
<text x="1596.15" y="1864.80" font-size="75.50" textLength="21.65" lengthAdjust="spacingAndGlyphs">)</text>
<text transform="translate(89,1204.9) rotate(-90)" x="0.00" y="0" font-size="75.50" textLength="572.23" lengthAdjust="spacingAndGlyphs">Absorbance (a.u.)</text>
<line x1="772.5" y1="77.3" x2="903.5" y2="77.3" stroke="#000000" stroke-width="4.8" stroke-linecap="round"/>
<line x1="772.5" y1="151.3" x2="903.5" y2="151.3" stroke="#ff0000" stroke-width="4.8" stroke-linecap="round"/>
<line x1="772.5" y1="239.4" x2="903.5" y2="239.4" stroke="#0000ff" stroke-width="4.8" stroke-linecap="round"/>
<line x1="772.5" y1="313.5" x2="903.5" y2="313.5" stroke="#008000" stroke-width="4.8" stroke-linecap="round"/>
<line x1="772.5" y1="387.6" x2="903.5" y2="387.6" stroke="#ff8000" stroke-width="4.8" stroke-linecap="round"/>
<line x1="772.5" y1="461.6" x2="903.5" y2="461.6" stroke="#800080" stroke-width="4.8" stroke-linecap="round"/>
<line x1="772.5" y1="535.6" x2="903.5" y2="535.6" stroke="#808000" stroke-width="4.8" stroke-linecap="round"/>
<line x1="772.5" y1="609.7" x2="903.5" y2="609.7" stroke="#00ff00" stroke-width="4.8" stroke-linecap="round"/>
<line x1="772.5" y1="683.8" x2="903.5" y2="683.8" stroke="#ff80ff" stroke-width="4.8" stroke-linecap="round"/>
</svg>
</body></html>
